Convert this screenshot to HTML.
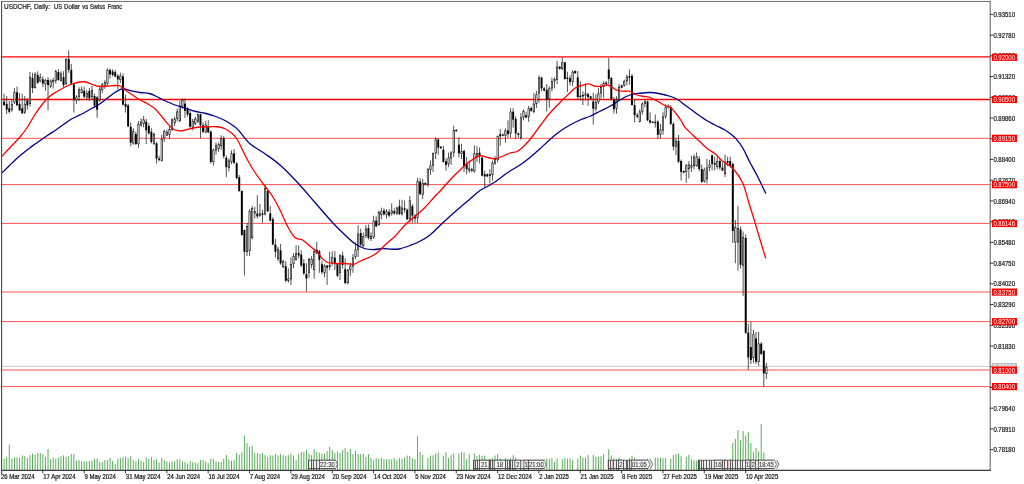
<!DOCTYPE html><html><head><meta charset="utf-8"><style>html,body{margin:0;padding:0;background:#fff;}svg{display:block;font-family:"Liberation Sans",sans-serif;}</style></head><body>
<svg width="1024" height="484" viewBox="0 0 1024 484">
<defs><filter id="bl" x="-5%" y="-5%" width="110%" height="110%"><feGaussianBlur stdDeviation="0.45"/></filter><filter id="bm" x="-5%" y="-20%" width="110%" height="140%"><feGaussianBlur stdDeviation="0.2"/></filter><filter id="bt" x="-5%" y="-20%" width="110%" height="140%"><feGaussianBlur stdDeviation="0.3"/></filter></defs>
<rect width="1024" height="484" fill="#fff"/>
<g stroke="#008000" stroke-width="0.66" filter="url(#bt)">
<line x1="4.10" y1="470" x2="4.10" y2="458.60"/>
<line x1="6.68" y1="470" x2="6.68" y2="456.80"/>
<line x1="9.27" y1="470" x2="9.27" y2="444.40"/>
<line x1="11.85" y1="470" x2="11.85" y2="458.80"/>
<line x1="14.44" y1="470" x2="14.44" y2="457.30"/>
<line x1="17.02" y1="470" x2="17.02" y2="457.30"/>
<line x1="19.60" y1="470" x2="19.60" y2="457.60"/>
<line x1="22.19" y1="470" x2="22.19" y2="455.40"/>
<line x1="24.77" y1="470" x2="24.77" y2="456.10"/>
<line x1="27.36" y1="470" x2="27.36" y2="458.10"/>
<line x1="29.94" y1="470" x2="29.94" y2="455.10"/>
<line x1="32.52" y1="470" x2="32.52" y2="453.60"/>
<line x1="35.11" y1="470" x2="35.11" y2="454.90"/>
<line x1="37.69" y1="470" x2="37.69" y2="452.80"/>
<line x1="40.28" y1="470" x2="40.28" y2="452.80"/>
<line x1="42.86" y1="470" x2="42.86" y2="454.10"/>
<line x1="45.44" y1="470" x2="45.44" y2="456.80"/>
<line x1="48.03" y1="470" x2="48.03" y2="449.00"/>
<line x1="50.61" y1="470" x2="50.61" y2="459.30"/>
<line x1="53.20" y1="470" x2="53.20" y2="457.60"/>
<line x1="55.78" y1="470" x2="55.78" y2="458.80"/>
<line x1="58.36" y1="470" x2="58.36" y2="457.40"/>
<line x1="60.95" y1="470" x2="60.95" y2="456.10"/>
<line x1="63.53" y1="470" x2="63.53" y2="455.40"/>
<line x1="66.12" y1="470" x2="66.12" y2="456.90"/>
<line x1="68.70" y1="470" x2="68.70" y2="455.90"/>
<line x1="71.28" y1="470" x2="71.28" y2="454.10"/>
<line x1="73.87" y1="470" x2="73.87" y2="454.10"/>
<line x1="76.45" y1="470" x2="76.45" y2="460.80"/>
<line x1="79.04" y1="470" x2="79.04" y2="460.10"/>
<line x1="81.62" y1="470" x2="81.62" y2="461.30"/>
<line x1="84.20" y1="470" x2="84.20" y2="461.30"/>
<line x1="86.79" y1="470" x2="86.79" y2="461.30"/>
<line x1="89.37" y1="470" x2="89.37" y2="460.80"/>
<line x1="91.96" y1="470" x2="91.96" y2="460.80"/>
<line x1="94.54" y1="470" x2="94.54" y2="458.80"/>
<line x1="97.12" y1="470" x2="97.12" y2="458.60"/>
<line x1="99.71" y1="470" x2="99.71" y2="462.10"/>
<line x1="102.29" y1="470" x2="102.29" y2="462.10"/>
<line x1="104.88" y1="470" x2="104.88" y2="460.10"/>
<line x1="107.46" y1="470" x2="107.46" y2="460.10"/>
<line x1="110.04" y1="470" x2="110.04" y2="458.10"/>
<line x1="112.63" y1="470" x2="112.63" y2="460.90"/>
<line x1="115.21" y1="470" x2="115.21" y2="464.00"/>
<line x1="117.80" y1="470" x2="117.80" y2="458.80"/>
<line x1="120.38" y1="470" x2="120.38" y2="458.10"/>
<line x1="122.96" y1="470" x2="122.96" y2="457.40"/>
<line x1="125.55" y1="470" x2="125.55" y2="456.80"/>
<line x1="128.13" y1="470" x2="128.13" y2="458.10"/>
<line x1="130.72" y1="470" x2="130.72" y2="456.10"/>
<line x1="133.30" y1="470" x2="133.30" y2="460.10"/>
<line x1="135.88" y1="470" x2="135.88" y2="461.40"/>
<line x1="138.47" y1="470" x2="138.47" y2="458.80"/>
<line x1="141.05" y1="470" x2="141.05" y2="460.80"/>
<line x1="143.64" y1="470" x2="143.64" y2="462.10"/>
<line x1="146.22" y1="470" x2="146.22" y2="457.60"/>
<line x1="148.80" y1="470" x2="148.80" y2="458.80"/>
<line x1="151.39" y1="470" x2="151.39" y2="456.80"/>
<line x1="153.97" y1="470" x2="153.97" y2="460.10"/>
<line x1="156.56" y1="470" x2="156.56" y2="459.30"/>
<line x1="159.14" y1="470" x2="159.14" y2="462.80"/>
<line x1="161.72" y1="470" x2="161.72" y2="458.10"/>
<line x1="164.31" y1="470" x2="164.31" y2="460.10"/>
<line x1="166.89" y1="470" x2="166.89" y2="461.30"/>
<line x1="169.48" y1="470" x2="169.48" y2="462.80"/>
<line x1="172.06" y1="470" x2="172.06" y2="461.30"/>
<line x1="174.64" y1="470" x2="174.64" y2="461.30"/>
<line x1="177.23" y1="470" x2="177.23" y2="459.30"/>
<line x1="179.81" y1="470" x2="179.81" y2="459.30"/>
<line x1="182.40" y1="470" x2="182.40" y2="461.30"/>
<line x1="184.98" y1="470" x2="184.98" y2="462.10"/>
<line x1="187.56" y1="470" x2="187.56" y2="463.30"/>
<line x1="190.15" y1="470" x2="190.15" y2="461.30"/>
<line x1="192.73" y1="470" x2="192.73" y2="462.10"/>
<line x1="195.32" y1="470" x2="195.32" y2="462.80"/>
<line x1="197.90" y1="470" x2="197.90" y2="463.30"/>
<line x1="200.48" y1="470" x2="200.48" y2="460.10"/>
<line x1="203.07" y1="470" x2="203.07" y2="460.10"/>
<line x1="205.65" y1="470" x2="205.65" y2="461.40"/>
<line x1="208.24" y1="470" x2="208.24" y2="463.10"/>
<line x1="210.82" y1="470" x2="210.82" y2="458.80"/>
<line x1="213.40" y1="470" x2="213.40" y2="458.80"/>
<line x1="215.99" y1="470" x2="215.99" y2="461.40"/>
<line x1="218.57" y1="470" x2="218.57" y2="462.10"/>
<line x1="221.16" y1="470" x2="221.16" y2="462.10"/>
<line x1="223.74" y1="470" x2="223.74" y2="458.80"/>
<line x1="226.32" y1="470" x2="226.32" y2="455.10"/>
<line x1="228.91" y1="470" x2="228.91" y2="459.40"/>
<line x1="231.49" y1="470" x2="231.49" y2="460.80"/>
<line x1="234.08" y1="470" x2="234.08" y2="460.10"/>
<line x1="236.66" y1="470" x2="236.66" y2="452.90"/>
<line x1="239.24" y1="470" x2="239.24" y2="454.90"/>
<line x1="241.83" y1="470" x2="241.83" y2="451.80"/>
<line x1="244.41" y1="470" x2="244.41" y2="435.60"/>
<line x1="247.00" y1="470" x2="247.00" y2="443.20"/>
<line x1="249.58" y1="470" x2="249.58" y2="446.90"/>
<line x1="252.16" y1="470" x2="252.16" y2="445.90"/>
<line x1="254.75" y1="470" x2="254.75" y2="452.90"/>
<line x1="257.33" y1="470" x2="257.33" y2="452.90"/>
<line x1="259.92" y1="470" x2="259.92" y2="454.10"/>
<line x1="262.50" y1="470" x2="262.50" y2="452.90"/>
<line x1="265.08" y1="470" x2="265.08" y2="455.10"/>
<line x1="267.67" y1="470" x2="267.67" y2="456.90"/>
<line x1="270.25" y1="470" x2="270.25" y2="455.10"/>
<line x1="272.84" y1="470" x2="272.84" y2="455.60"/>
<line x1="275.42" y1="470" x2="275.42" y2="454.10"/>
<line x1="278.00" y1="470" x2="278.00" y2="455.60"/>
<line x1="280.59" y1="470" x2="280.59" y2="454.10"/>
<line x1="283.17" y1="470" x2="283.17" y2="455.10"/>
<line x1="285.76" y1="470" x2="285.76" y2="456.10"/>
<line x1="288.34" y1="470" x2="288.34" y2="455.10"/>
<line x1="290.92" y1="470" x2="290.92" y2="453.60"/>
<line x1="293.51" y1="470" x2="293.51" y2="455.60"/>
<line x1="296.09" y1="470" x2="296.09" y2="460.10"/>
<line x1="298.68" y1="470" x2="298.68" y2="454.10"/>
<line x1="301.26" y1="470" x2="301.26" y2="452.10"/>
<line x1="303.84" y1="470" x2="303.84" y2="452.10"/>
<line x1="306.43" y1="470" x2="306.43" y2="450.00"/>
<line x1="309.01" y1="470" x2="309.01" y2="453.60"/>
<line x1="311.60" y1="470" x2="311.60" y2="455.10"/>
<line x1="314.18" y1="470" x2="314.18" y2="449.20"/>
<line x1="316.76" y1="470" x2="316.76" y2="451.90"/>
<line x1="319.35" y1="470" x2="319.35" y2="452.90"/>
<line x1="321.93" y1="470" x2="321.93" y2="453.60"/>
<line x1="324.52" y1="470" x2="324.52" y2="453.60"/>
<line x1="327.10" y1="470" x2="327.10" y2="451.00"/>
<line x1="329.68" y1="470" x2="329.68" y2="446.70"/>
<line x1="332.27" y1="470" x2="332.27" y2="450.00"/>
<line x1="334.85" y1="470" x2="334.85" y2="452.90"/>
<line x1="337.44" y1="470" x2="337.44" y2="451.60"/>
<line x1="340.02" y1="470" x2="340.02" y2="452.90"/>
<line x1="342.60" y1="470" x2="342.60" y2="450.00"/>
<line x1="345.19" y1="470" x2="345.19" y2="448.20"/>
<line x1="347.77" y1="470" x2="347.77" y2="451.60"/>
<line x1="350.36" y1="470" x2="350.36" y2="449.00"/>
<line x1="352.94" y1="470" x2="352.94" y2="454.10"/>
<line x1="355.52" y1="470" x2="355.52" y2="451.00"/>
<line x1="358.11" y1="470" x2="358.11" y2="454.10"/>
<line x1="360.69" y1="470" x2="360.69" y2="454.10"/>
<line x1="363.28" y1="470" x2="363.28" y2="453.60"/>
<line x1="365.86" y1="470" x2="365.86" y2="456.90"/>
<line x1="368.44" y1="470" x2="368.44" y2="454.10"/>
<line x1="371.03" y1="470" x2="371.03" y2="458.10"/>
<line x1="373.61" y1="470" x2="373.61" y2="460.10"/>
<line x1="376.20" y1="470" x2="376.20" y2="458.10"/>
<line x1="378.78" y1="470" x2="378.78" y2="458.80"/>
<line x1="381.36" y1="470" x2="381.36" y2="457.60"/>
<line x1="383.95" y1="470" x2="383.95" y2="459.30"/>
<line x1="386.53" y1="470" x2="386.53" y2="459.30"/>
<line x1="389.12" y1="470" x2="389.12" y2="459.30"/>
<line x1="391.70" y1="470" x2="391.70" y2="459.30"/>
<line x1="394.28" y1="470" x2="394.28" y2="458.10"/>
<line x1="396.87" y1="470" x2="396.87" y2="460.10"/>
<line x1="399.45" y1="470" x2="399.45" y2="458.10"/>
<line x1="402.04" y1="470" x2="402.04" y2="458.80"/>
<line x1="404.62" y1="470" x2="404.62" y2="457.40"/>
<line x1="407.20" y1="470" x2="407.20" y2="455.60"/>
<line x1="409.79" y1="470" x2="409.79" y2="456.10"/>
<line x1="412.37" y1="470" x2="412.37" y2="458.10"/>
<line x1="414.96" y1="470" x2="414.96" y2="459.30"/>
<line x1="417.54" y1="470" x2="417.54" y2="436.10"/>
<line x1="420.12" y1="470" x2="420.12" y2="451.80"/>
<line x1="422.71" y1="470" x2="422.71" y2="454.90"/>
<line x1="427.88" y1="470" x2="427.88" y2="458.10"/>
<line x1="430.46" y1="470" x2="430.46" y2="455.60"/>
<line x1="433.04" y1="470" x2="433.04" y2="455.10"/>
<line x1="435.63" y1="470" x2="435.63" y2="453.60"/>
<line x1="438.21" y1="470" x2="438.21" y2="452.30"/>
<line x1="443.38" y1="470" x2="443.38" y2="455.60"/>
<line x1="445.96" y1="470" x2="445.96" y2="452.30"/>
<line x1="448.55" y1="470" x2="448.55" y2="458.10"/>
<line x1="451.13" y1="470" x2="451.13" y2="454.90"/>
<line x1="453.72" y1="470" x2="453.72" y2="453.60"/>
<line x1="458.88" y1="470" x2="458.88" y2="453.60"/>
<line x1="461.47" y1="470" x2="461.47" y2="452.30"/>
<line x1="464.05" y1="470" x2="464.05" y2="452.30"/>
<line x1="466.64" y1="470" x2="466.64" y2="459.30"/>
<line x1="469.22" y1="470" x2="469.22" y2="454.10"/>
<line x1="474.39" y1="470" x2="474.39" y2="453.60"/>
<line x1="476.97" y1="470" x2="476.97" y2="456.10"/>
<line x1="479.56" y1="470" x2="479.56" y2="454.90"/>
<line x1="482.14" y1="470" x2="482.14" y2="456.10"/>
<line x1="484.72" y1="470" x2="484.72" y2="455.60"/>
<line x1="489.89" y1="470" x2="489.89" y2="458.60"/>
<line x1="492.48" y1="470" x2="492.48" y2="458.10"/>
<line x1="495.06" y1="470" x2="495.06" y2="455.60"/>
<line x1="497.64" y1="470" x2="497.64" y2="454.10"/>
<line x1="500.23" y1="470" x2="500.23" y2="458.60"/>
<line x1="505.40" y1="470" x2="505.40" y2="458.10"/>
<line x1="507.98" y1="470" x2="507.98" y2="458.60"/>
<line x1="510.56" y1="470" x2="510.56" y2="458.10"/>
<line x1="513.15" y1="470" x2="513.15" y2="455.10"/>
<line x1="515.73" y1="470" x2="515.73" y2="457.60"/>
<line x1="520.90" y1="470" x2="520.90" y2="461.00"/>
<line x1="523.48" y1="470" x2="523.48" y2="461.00"/>
<line x1="526.07" y1="470" x2="526.07" y2="461.00"/>
<line x1="528.65" y1="470" x2="528.65" y2="461.00"/>
<line x1="533.82" y1="470" x2="533.82" y2="462.00"/>
<line x1="536.40" y1="470" x2="536.40" y2="462.00"/>
<line x1="538.99" y1="470" x2="538.99" y2="462.00"/>
<line x1="541.57" y1="470" x2="541.57" y2="462.00"/>
<line x1="546.74" y1="470" x2="546.74" y2="458.80"/>
<line x1="549.32" y1="470" x2="549.32" y2="458.60"/>
<line x1="551.91" y1="470" x2="551.91" y2="458.10"/>
<line x1="554.49" y1="470" x2="554.49" y2="462.10"/>
<line x1="557.08" y1="470" x2="557.08" y2="458.60"/>
<line x1="562.24" y1="470" x2="562.24" y2="459.30"/>
<line x1="564.83" y1="470" x2="564.83" y2="458.10"/>
<line x1="567.41" y1="470" x2="567.41" y2="458.60"/>
<line x1="570.00" y1="470" x2="570.00" y2="458.60"/>
<line x1="572.58" y1="470" x2="572.58" y2="460.10"/>
<line x1="577.75" y1="470" x2="577.75" y2="458.60"/>
<line x1="580.33" y1="470" x2="580.33" y2="455.60"/>
<line x1="582.92" y1="470" x2="582.92" y2="457.60"/>
<line x1="585.50" y1="470" x2="585.50" y2="457.60"/>
<line x1="588.08" y1="470" x2="588.08" y2="454.90"/>
<line x1="593.25" y1="470" x2="593.25" y2="454.90"/>
<line x1="595.84" y1="470" x2="595.84" y2="456.90"/>
<line x1="598.42" y1="470" x2="598.42" y2="456.90"/>
<line x1="601.00" y1="470" x2="601.00" y2="456.10"/>
<line x1="603.59" y1="470" x2="603.59" y2="454.10"/>
<line x1="608.76" y1="470" x2="608.76" y2="449.20"/>
<line x1="611.34" y1="470" x2="611.34" y2="455.60"/>
<line x1="613.92" y1="470" x2="613.92" y2="458.10"/>
<line x1="616.51" y1="470" x2="616.51" y2="458.80"/>
<line x1="619.09" y1="470" x2="619.09" y2="457.40"/>
<line x1="624.26" y1="470" x2="624.26" y2="461.00"/>
<line x1="626.84" y1="470" x2="626.84" y2="461.00"/>
<line x1="629.43" y1="470" x2="629.43" y2="458.10"/>
<line x1="632.01" y1="470" x2="632.01" y2="455.60"/>
<line x1="634.60" y1="470" x2="634.60" y2="457.60"/>
<line x1="639.76" y1="470" x2="639.76" y2="461.00"/>
<line x1="642.35" y1="470" x2="642.35" y2="461.00"/>
<line x1="644.93" y1="470" x2="644.93" y2="461.00"/>
<line x1="647.52" y1="470" x2="647.52" y2="458.60"/>
<line x1="650.10" y1="470" x2="650.10" y2="458.60"/>
<line x1="655.27" y1="470" x2="655.27" y2="457.60"/>
<line x1="657.85" y1="470" x2="657.85" y2="457.60"/>
<line x1="660.44" y1="470" x2="660.44" y2="457.60"/>
<line x1="663.02" y1="470" x2="663.02" y2="458.10"/>
<line x1="665.60" y1="470" x2="665.60" y2="458.10"/>
<line x1="670.77" y1="470" x2="670.77" y2="458.80"/>
<line x1="673.36" y1="470" x2="673.36" y2="455.10"/>
<line x1="675.94" y1="470" x2="675.94" y2="454.10"/>
<line x1="678.52" y1="470" x2="678.52" y2="453.60"/>
<line x1="681.11" y1="470" x2="681.11" y2="456.10"/>
<line x1="686.28" y1="470" x2="686.28" y2="456.90"/>
<line x1="688.86" y1="470" x2="688.86" y2="454.90"/>
<line x1="691.44" y1="470" x2="691.44" y2="459.30"/>
<line x1="694.03" y1="470" x2="694.03" y2="460.10"/>
<line x1="696.61" y1="470" x2="696.61" y2="460.80"/>
<line x1="701.78" y1="470" x2="701.78" y2="461.00"/>
<line x1="704.36" y1="470" x2="704.36" y2="461.00"/>
<line x1="706.95" y1="470" x2="706.95" y2="461.00"/>
<line x1="709.53" y1="470" x2="709.53" y2="461.00"/>
<line x1="712.12" y1="470" x2="712.12" y2="461.00"/>
<line x1="717.28" y1="470" x2="717.28" y2="461.00"/>
<line x1="719.87" y1="470" x2="719.87" y2="461.00"/>
<line x1="722.45" y1="470" x2="722.45" y2="461.00"/>
<line x1="725.04" y1="470" x2="725.04" y2="458.80"/>
<line x1="727.62" y1="470" x2="727.62" y2="461.00"/>
<line x1="730.20" y1="470" x2="730.20" y2="458.80"/>
<line x1="732.79" y1="470" x2="732.79" y2="443.10"/>
<line x1="735.37" y1="470" x2="735.37" y2="439.00"/>
<line x1="737.96" y1="470" x2="737.96" y2="430.20"/>
<line x1="740.54" y1="470" x2="740.54" y2="440.20"/>
<line x1="743.12" y1="470" x2="743.12" y2="431.00"/>
<line x1="745.71" y1="470" x2="745.71" y2="435.70"/>
<line x1="748.29" y1="470" x2="748.29" y2="432.30"/>
<line x1="750.88" y1="470" x2="750.88" y2="443.10"/>
<line x1="753.46" y1="470" x2="753.46" y2="452.10"/>
<line x1="756.04" y1="470" x2="756.04" y2="447.90"/>
<line x1="758.63" y1="470" x2="758.63" y2="451.30"/>
<line x1="761.21" y1="470" x2="761.21" y2="423.80"/>
<line x1="763.80" y1="470" x2="763.80" y2="452.40"/>
<line x1="766.38" y1="470" x2="766.38" y2="468.70"/>
</g>
<line x1="2" y1="366.4" x2="990" y2="366.4" stroke="#b0b0b0" stroke-width="0.66"/>
<line x1="2" y1="56.95" x2="990" y2="56.95" stroke="#ff0000" stroke-width="1.3"/>
<line x1="2" y1="99.5" x2="990" y2="99.5" stroke="#ff0000" stroke-width="1.3"/>
<line x1="2" y1="138.3" x2="990" y2="138.3" stroke="#ff0000" stroke-width="0.68"/>
<line x1="2" y1="184.6" x2="990" y2="184.6" stroke="#ff0000" stroke-width="0.68"/>
<line x1="2" y1="223.4" x2="990" y2="223.4" stroke="#ff0000" stroke-width="0.68"/>
<line x1="2" y1="292" x2="990" y2="292" stroke="#ff0000" stroke-width="0.68"/>
<line x1="2" y1="321.6" x2="990" y2="321.6" stroke="#ff0000" stroke-width="0.68"/>
<line x1="2" y1="370" x2="990" y2="370" stroke="#ff0000" stroke-width="0.68"/>
<line x1="2" y1="386.6" x2="990" y2="386.6" stroke="#ff0000" stroke-width="0.68"/>
<g filter="url(#bl)">
<line x1="4.10" y1="93.73" x2="4.10" y2="105.30" stroke="#000" stroke-width="0.68"/>
<rect x="3.13" y="101.68" width="1.94" height="3.62" fill="#000"/>
<line x1="6.68" y1="95.90" x2="6.68" y2="113.98" stroke="#000" stroke-width="0.68"/>
<rect x="5.71" y="103.85" width="1.94" height="5.79" fill="#000"/>
<line x1="9.27" y1="100.96" x2="9.27" y2="113.25" stroke="#000" stroke-width="0.68"/>
<rect x="8.30" y="108.19" width="1.94" height="3.62" fill="#000"/>
<line x1="11.85" y1="99.51" x2="11.85" y2="111.81" stroke="#000" stroke-width="0.68"/>
<rect x="10.88" y="103.85" width="1.94" height="5.79" fill="#000"/>
<rect x="11.49" y="104.50" width="0.72" height="4.49" fill="#fff"/>
<line x1="14.44" y1="87.94" x2="14.44" y2="103.85" stroke="#000" stroke-width="0.68"/>
<rect x="13.47" y="92.28" width="1.94" height="10.12" fill="#000"/>
<rect x="14.08" y="92.93" width="0.72" height="8.82" fill="#fff"/>
<line x1="17.02" y1="86.50" x2="17.02" y2="106.02" stroke="#000" stroke-width="0.68"/>
<rect x="16.05" y="92.28" width="1.94" height="13.02" fill="#000"/>
<line x1="19.60" y1="93.01" x2="19.60" y2="111.09" stroke="#000" stroke-width="0.68"/>
<rect x="18.63" y="103.85" width="1.94" height="6.51" fill="#000"/>
<line x1="22.19" y1="93.73" x2="22.19" y2="113.98" stroke="#000" stroke-width="0.68"/>
<rect x="21.22" y="108.19" width="1.94" height="5.06" fill="#000"/>
<line x1="24.77" y1="95.90" x2="24.77" y2="113.98" stroke="#000" stroke-width="0.68"/>
<rect x="23.80" y="103.85" width="1.94" height="8.68" fill="#000"/>
<rect x="24.41" y="104.50" width="0.72" height="7.38" fill="#fff"/>
<line x1="27.36" y1="98.07" x2="27.36" y2="109.64" stroke="#000" stroke-width="0.68"/>
<rect x="26.39" y="100.24" width="1.94" height="5.06" fill="#000"/>
<line x1="29.94" y1="72.03" x2="29.94" y2="106.75" stroke="#000" stroke-width="0.68"/>
<rect x="28.97" y="77.10" width="1.94" height="26.76" fill="#000"/>
<rect x="29.58" y="77.75" width="0.72" height="25.46" fill="#fff"/>
<line x1="32.52" y1="72.76" x2="32.52" y2="93.01" stroke="#000" stroke-width="0.68"/>
<rect x="31.55" y="77.82" width="1.94" height="10.12" fill="#000"/>
<line x1="35.11" y1="72.03" x2="35.11" y2="88.67" stroke="#000" stroke-width="0.68"/>
<rect x="34.14" y="74.20" width="1.94" height="13.74" fill="#000"/>
<rect x="34.75" y="74.85" width="0.72" height="12.44" fill="#fff"/>
<line x1="37.69" y1="71.31" x2="37.69" y2="83.60" stroke="#000" stroke-width="0.68"/>
<rect x="36.72" y="74.93" width="1.94" height="7.95" fill="#000"/>
<line x1="40.28" y1="73.48" x2="40.28" y2="82.16" stroke="#000" stroke-width="0.68"/>
<rect x="39.31" y="77.10" width="1.94" height="4.34" fill="#000"/>
<rect x="39.92" y="77.75" width="0.72" height="3.04" fill="#fff"/>
<line x1="42.86" y1="76.37" x2="42.86" y2="87.22" stroke="#000" stroke-width="0.68"/>
<rect x="41.89" y="79.27" width="1.94" height="4.34" fill="#000"/>
<line x1="45.44" y1="78.54" x2="45.44" y2="90.84" stroke="#000" stroke-width="0.68"/>
<rect x="44.47" y="79.99" width="1.94" height="4.34" fill="#000"/>
<rect x="45.08" y="80.64" width="0.72" height="3.04" fill="#fff"/>
<line x1="48.03" y1="77.10" x2="48.03" y2="110.36" stroke="#000" stroke-width="0.68"/>
<rect x="47.06" y="79.99" width="1.94" height="5.06" fill="#000"/>
<line x1="50.61" y1="79.27" x2="50.61" y2="87.94" stroke="#000" stroke-width="0.68"/>
<rect x="49.64" y="80.71" width="1.94" height="5.79" fill="#000"/>
<rect x="50.25" y="81.36" width="0.72" height="4.49" fill="#fff"/>
<line x1="53.20" y1="77.82" x2="53.20" y2="88.67" stroke="#000" stroke-width="0.68"/>
<rect x="52.23" y="79.99" width="1.94" height="2.17" fill="#000"/>
<rect x="52.84" y="80.64" width="0.72" height="0.87" fill="#fff"/>
<line x1="55.78" y1="69.86" x2="55.78" y2="83.60" stroke="#000" stroke-width="0.68"/>
<rect x="54.81" y="71.31" width="1.94" height="9.40" fill="#000"/>
<rect x="55.42" y="71.96" width="0.72" height="8.10" fill="#fff"/>
<line x1="58.36" y1="69.14" x2="58.36" y2="80.71" stroke="#000" stroke-width="0.68"/>
<rect x="57.39" y="72.03" width="1.94" height="7.95" fill="#000"/>
<line x1="60.95" y1="71.31" x2="60.95" y2="81.44" stroke="#000" stroke-width="0.68"/>
<rect x="59.98" y="73.48" width="1.94" height="7.23" fill="#000"/>
<rect x="60.59" y="74.13" width="0.72" height="5.93" fill="#fff"/>
<line x1="63.53" y1="71.31" x2="63.53" y2="87.22" stroke="#000" stroke-width="0.68"/>
<rect x="62.56" y="77.10" width="1.94" height="7.95" fill="#000"/>
<line x1="66.12" y1="58.29" x2="66.12" y2="85.05" stroke="#000" stroke-width="0.68"/>
<rect x="65.15" y="59.02" width="1.94" height="24.59" fill="#000"/>
<rect x="65.76" y="59.67" width="0.72" height="23.29" fill="#fff"/>
<line x1="68.70" y1="50.34" x2="68.70" y2="72.76" stroke="#000" stroke-width="0.68"/>
<rect x="67.73" y="59.02" width="1.94" height="10.85" fill="#000"/>
<line x1="71.28" y1="64.08" x2="71.28" y2="85.05" stroke="#000" stroke-width="0.68"/>
<rect x="70.31" y="69.86" width="1.94" height="13.74" fill="#000"/>
<line x1="73.87" y1="83.60" x2="73.87" y2="112.53" stroke="#000" stroke-width="0.68"/>
<rect x="72.90" y="84.33" width="1.94" height="15.91" fill="#000"/>
<line x1="76.45" y1="95.18" x2="76.45" y2="103.85" stroke="#000" stroke-width="0.68"/>
<rect x="75.48" y="96.62" width="1.94" height="3.62" fill="#000"/>
<rect x="76.09" y="97.27" width="0.72" height="2.32" fill="#fff"/>
<line x1="79.04" y1="87.22" x2="79.04" y2="100.96" stroke="#000" stroke-width="0.68"/>
<rect x="78.07" y="89.39" width="1.94" height="7.23" fill="#000"/>
<rect x="78.68" y="90.04" width="0.72" height="5.93" fill="#fff"/>
<line x1="81.62" y1="86.50" x2="81.62" y2="93.73" stroke="#000" stroke-width="0.68"/>
<rect x="80.65" y="89.39" width="1.94" height="3.62" fill="#000"/>
<rect x="81.26" y="90.04" width="0.72" height="2.32" fill="#fff"/>
<line x1="84.20" y1="86.50" x2="84.20" y2="98.07" stroke="#000" stroke-width="0.68"/>
<rect x="83.23" y="90.84" width="1.94" height="5.79" fill="#000"/>
<line x1="86.79" y1="90.20" x2="86.79" y2="100.33" stroke="#000" stroke-width="0.68"/>
<rect x="85.82" y="93.10" width="1.94" height="4.34" fill="#000"/>
<rect x="86.43" y="93.75" width="0.72" height="3.04" fill="#fff"/>
<line x1="89.37" y1="88.03" x2="89.37" y2="101.05" stroke="#000" stroke-width="0.68"/>
<rect x="88.40" y="90.93" width="1.94" height="7.23" fill="#000"/>
<line x1="91.96" y1="85.86" x2="91.96" y2="99.60" stroke="#000" stroke-width="0.68"/>
<rect x="90.99" y="90.20" width="1.94" height="6.51" fill="#000"/>
<rect x="91.60" y="90.85" width="0.72" height="5.21" fill="#fff"/>
<line x1="94.54" y1="93.82" x2="94.54" y2="106.84" stroke="#000" stroke-width="0.68"/>
<rect x="93.57" y="95.99" width="1.94" height="9.40" fill="#000"/>
<line x1="97.12" y1="95.99" x2="97.12" y2="117.68" stroke="#000" stroke-width="0.68"/>
<rect x="96.15" y="97.44" width="1.94" height="12.29" fill="#000"/>
<line x1="99.71" y1="87.31" x2="99.71" y2="101.77" stroke="#000" stroke-width="0.68"/>
<rect x="98.74" y="88.76" width="1.94" height="11.57" fill="#000"/>
<rect x="99.35" y="89.41" width="0.72" height="10.27" fill="#fff"/>
<line x1="102.29" y1="82.97" x2="102.29" y2="93.10" stroke="#000" stroke-width="0.68"/>
<rect x="101.32" y="84.42" width="1.94" height="5.79" fill="#000"/>
<rect x="101.93" y="85.07" width="0.72" height="4.49" fill="#fff"/>
<line x1="104.88" y1="80.08" x2="104.88" y2="88.76" stroke="#000" stroke-width="0.68"/>
<rect x="103.91" y="82.25" width="1.94" height="4.34" fill="#000"/>
<rect x="104.52" y="82.90" width="0.72" height="3.04" fill="#fff"/>
<line x1="107.46" y1="68.51" x2="107.46" y2="85.14" stroke="#000" stroke-width="0.68"/>
<rect x="106.49" y="69.95" width="1.94" height="13.74" fill="#000"/>
<rect x="107.10" y="70.60" width="0.72" height="12.44" fill="#fff"/>
<line x1="110.04" y1="68.51" x2="110.04" y2="78.63" stroke="#000" stroke-width="0.68"/>
<rect x="109.07" y="69.95" width="1.94" height="4.34" fill="#000"/>
<line x1="112.63" y1="69.23" x2="112.63" y2="76.46" stroke="#000" stroke-width="0.68"/>
<rect x="111.66" y="71.40" width="1.94" height="3.62" fill="#000"/>
<line x1="115.21" y1="69.95" x2="115.21" y2="77.19" stroke="#000" stroke-width="0.68"/>
<rect x="114.24" y="72.12" width="1.94" height="4.34" fill="#000"/>
<line x1="117.80" y1="74.29" x2="117.80" y2="89.48" stroke="#000" stroke-width="0.68"/>
<rect x="116.83" y="75.74" width="1.94" height="3.62" fill="#000"/>
<line x1="120.38" y1="72.85" x2="120.38" y2="82.97" stroke="#000" stroke-width="0.68"/>
<rect x="119.41" y="75.74" width="1.94" height="4.34" fill="#000"/>
<rect x="120.02" y="76.39" width="0.72" height="3.04" fill="#fff"/>
<line x1="122.96" y1="73.57" x2="122.96" y2="105.39" stroke="#000" stroke-width="0.68"/>
<rect x="121.99" y="76.46" width="1.94" height="28.20" fill="#000"/>
<line x1="125.55" y1="94.54" x2="125.55" y2="112.62" stroke="#000" stroke-width="0.68"/>
<rect x="124.58" y="103.94" width="1.94" height="2.89" fill="#000"/>
<line x1="128.13" y1="103.94" x2="128.13" y2="127.09" stroke="#000" stroke-width="0.68"/>
<rect x="127.16" y="105.39" width="1.94" height="20.97" fill="#000"/>
<line x1="130.72" y1="122.42" x2="130.72" y2="146.28" stroke="#000" stroke-width="0.68"/>
<rect x="129.75" y="126.76" width="1.94" height="15.91" fill="#000"/>
<line x1="133.30" y1="128.20" x2="133.30" y2="144.84" stroke="#000" stroke-width="0.68"/>
<rect x="132.33" y="131.10" width="1.94" height="12.29" fill="#000"/>
<rect x="132.94" y="131.75" width="0.72" height="10.99" fill="#fff"/>
<line x1="135.88" y1="131.82" x2="135.88" y2="144.84" stroke="#000" stroke-width="0.68"/>
<rect x="134.91" y="133.99" width="1.94" height="10.12" fill="#000"/>
<line x1="138.47" y1="120.97" x2="138.47" y2="147.73" stroke="#000" stroke-width="0.68"/>
<rect x="137.50" y="123.86" width="1.94" height="20.25" fill="#000"/>
<rect x="138.11" y="124.51" width="0.72" height="18.95" fill="#fff"/>
<line x1="141.05" y1="118.08" x2="141.05" y2="126.76" stroke="#000" stroke-width="0.68"/>
<rect x="140.08" y="121.70" width="1.94" height="3.62" fill="#000"/>
<rect x="140.69" y="122.35" width="0.72" height="2.32" fill="#fff"/>
<line x1="143.64" y1="115.91" x2="143.64" y2="127.48" stroke="#000" stroke-width="0.68"/>
<rect x="142.67" y="119.53" width="1.94" height="4.34" fill="#000"/>
<rect x="143.28" y="120.18" width="0.72" height="3.04" fill="#fff"/>
<line x1="146.22" y1="118.80" x2="146.22" y2="144.11" stroke="#000" stroke-width="0.68"/>
<rect x="145.25" y="121.70" width="1.94" height="8.68" fill="#000"/>
<line x1="148.80" y1="123.14" x2="148.80" y2="134.71" stroke="#000" stroke-width="0.68"/>
<rect x="147.83" y="126.03" width="1.94" height="7.23" fill="#000"/>
<line x1="151.39" y1="128.20" x2="151.39" y2="143.39" stroke="#000" stroke-width="0.68"/>
<rect x="150.42" y="131.82" width="1.94" height="10.12" fill="#000"/>
<line x1="153.97" y1="132.54" x2="153.97" y2="144.84" stroke="#000" stroke-width="0.68"/>
<rect x="153.00" y="133.99" width="1.94" height="10.12" fill="#000"/>
<rect x="153.61" y="134.64" width="0.72" height="8.82" fill="#fff"/>
<line x1="156.56" y1="141.94" x2="156.56" y2="163.64" stroke="#000" stroke-width="0.68"/>
<rect x="155.59" y="143.39" width="1.94" height="15.19" fill="#000"/>
<line x1="159.14" y1="155.68" x2="159.14" y2="161.47" stroke="#000" stroke-width="0.68"/>
<rect x="158.17" y="158.58" width="1.94" height="1.45" fill="#000"/>
<line x1="161.72" y1="134.71" x2="161.72" y2="161.47" stroke="#000" stroke-width="0.68"/>
<rect x="160.75" y="139.05" width="1.94" height="21.70" fill="#000"/>
<rect x="161.36" y="139.70" width="0.72" height="20.40" fill="#fff"/>
<line x1="164.31" y1="129.65" x2="164.31" y2="141.94" stroke="#000" stroke-width="0.68"/>
<rect x="163.34" y="131.10" width="1.94" height="7.23" fill="#000"/>
<rect x="163.95" y="131.75" width="0.72" height="5.93" fill="#fff"/>
<line x1="166.89" y1="129.65" x2="166.89" y2="136.16" stroke="#000" stroke-width="0.68"/>
<rect x="165.92" y="131.82" width="1.94" height="3.62" fill="#000"/>
<rect x="166.53" y="132.47" width="0.72" height="2.32" fill="#fff"/>
<line x1="169.48" y1="126.03" x2="169.48" y2="139.05" stroke="#000" stroke-width="0.68"/>
<rect x="168.51" y="128.93" width="1.94" height="5.79" fill="#000"/>
<rect x="169.12" y="129.58" width="0.72" height="4.49" fill="#fff"/>
<line x1="172.06" y1="118.08" x2="172.06" y2="131.10" stroke="#000" stroke-width="0.68"/>
<rect x="171.09" y="119.53" width="1.94" height="10.12" fill="#000"/>
<rect x="171.70" y="120.18" width="0.72" height="8.82" fill="#fff"/>
<line x1="174.64" y1="116.63" x2="174.64" y2="126.03" stroke="#000" stroke-width="0.68"/>
<rect x="173.67" y="118.80" width="1.94" height="4.34" fill="#000"/>
<rect x="174.28" y="119.45" width="0.72" height="3.04" fill="#fff"/>
<line x1="177.23" y1="108.68" x2="177.23" y2="121.70" stroke="#000" stroke-width="0.68"/>
<rect x="176.26" y="111.57" width="1.94" height="7.23" fill="#000"/>
<rect x="176.87" y="112.22" width="0.72" height="5.93" fill="#fff"/>
<line x1="179.81" y1="100.72" x2="179.81" y2="122.42" stroke="#000" stroke-width="0.68"/>
<rect x="178.84" y="105.79" width="1.94" height="15.19" fill="#000"/>
<rect x="179.45" y="106.44" width="0.72" height="13.89" fill="#fff"/>
<line x1="182.40" y1="98.55" x2="182.40" y2="108.68" stroke="#000" stroke-width="0.68"/>
<rect x="181.43" y="100.00" width="1.94" height="6.51" fill="#000"/>
<rect x="182.04" y="100.65" width="0.72" height="5.21" fill="#fff"/>
<line x1="184.98" y1="98.55" x2="184.98" y2="118.08" stroke="#000" stroke-width="0.68"/>
<rect x="184.01" y="103.62" width="1.94" height="7.23" fill="#000"/>
<line x1="187.56" y1="107.23" x2="187.56" y2="116.63" stroke="#000" stroke-width="0.68"/>
<rect x="186.59" y="108.68" width="1.94" height="5.79" fill="#000"/>
<line x1="190.15" y1="110.85" x2="190.15" y2="127.48" stroke="#000" stroke-width="0.68"/>
<rect x="189.18" y="113.02" width="1.94" height="13.74" fill="#000"/>
<line x1="192.73" y1="118.80" x2="192.73" y2="130.37" stroke="#000" stroke-width="0.68"/>
<rect x="191.76" y="120.97" width="1.94" height="6.51" fill="#000"/>
<rect x="192.37" y="121.62" width="0.72" height="5.21" fill="#fff"/>
<line x1="195.32" y1="116.63" x2="195.32" y2="125.31" stroke="#000" stroke-width="0.68"/>
<rect x="194.35" y="118.80" width="1.94" height="5.06" fill="#000"/>
<rect x="194.96" y="119.45" width="0.72" height="3.76" fill="#fff"/>
<line x1="197.90" y1="113.62" x2="197.90" y2="123.02" stroke="#000" stroke-width="0.68"/>
<rect x="196.93" y="114.34" width="1.94" height="7.23" fill="#000"/>
<rect x="197.54" y="114.99" width="0.72" height="5.93" fill="#fff"/>
<line x1="200.48" y1="113.62" x2="200.48" y2="138.20" stroke="#000" stroke-width="0.68"/>
<rect x="199.51" y="114.34" width="1.94" height="10.85" fill="#000"/>
<line x1="203.07" y1="122.29" x2="203.07" y2="133.14" stroke="#000" stroke-width="0.68"/>
<rect x="202.10" y="125.19" width="1.94" height="6.51" fill="#000"/>
<line x1="205.65" y1="120.85" x2="205.65" y2="133.14" stroke="#000" stroke-width="0.68"/>
<rect x="204.68" y="124.46" width="1.94" height="7.95" fill="#000"/>
<rect x="205.29" y="125.11" width="0.72" height="6.65" fill="#fff"/>
<line x1="208.24" y1="120.12" x2="208.24" y2="133.14" stroke="#000" stroke-width="0.68"/>
<rect x="207.27" y="126.63" width="1.94" height="5.79" fill="#000"/>
<line x1="210.82" y1="130.25" x2="210.82" y2="163.51" stroke="#000" stroke-width="0.68"/>
<rect x="209.85" y="131.70" width="1.94" height="30.37" fill="#000"/>
<line x1="213.40" y1="148.33" x2="213.40" y2="165.68" stroke="#000" stroke-width="0.68"/>
<rect x="212.43" y="149.77" width="1.94" height="12.29" fill="#000"/>
<rect x="213.04" y="150.42" width="0.72" height="10.99" fill="#fff"/>
<line x1="215.99" y1="142.54" x2="215.99" y2="154.84" stroke="#000" stroke-width="0.68"/>
<rect x="215.02" y="145.44" width="1.94" height="5.06" fill="#000"/>
<rect x="215.63" y="146.09" width="0.72" height="3.76" fill="#fff"/>
<line x1="218.57" y1="142.54" x2="218.57" y2="151.94" stroke="#000" stroke-width="0.68"/>
<rect x="217.60" y="143.99" width="1.94" height="5.06" fill="#000"/>
<rect x="218.21" y="144.64" width="0.72" height="3.76" fill="#fff"/>
<line x1="221.16" y1="135.31" x2="221.16" y2="149.77" stroke="#000" stroke-width="0.68"/>
<rect x="220.19" y="138.20" width="1.94" height="7.95" fill="#000"/>
<rect x="220.80" y="138.85" width="0.72" height="6.65" fill="#fff"/>
<line x1="223.74" y1="136.03" x2="223.74" y2="158.45" stroke="#000" stroke-width="0.68"/>
<rect x="222.77" y="138.20" width="1.94" height="18.08" fill="#000"/>
<line x1="226.32" y1="155.56" x2="226.32" y2="177.25" stroke="#000" stroke-width="0.68"/>
<rect x="225.35" y="157.73" width="1.94" height="9.40" fill="#000"/>
<line x1="228.91" y1="158.45" x2="228.91" y2="171.47" stroke="#000" stroke-width="0.68"/>
<rect x="227.94" y="160.62" width="1.94" height="7.23" fill="#000"/>
<rect x="228.55" y="161.27" width="0.72" height="5.93" fill="#fff"/>
<line x1="231.49" y1="150.50" x2="231.49" y2="164.24" stroke="#000" stroke-width="0.68"/>
<rect x="230.52" y="153.39" width="1.94" height="8.68" fill="#000"/>
<rect x="231.13" y="154.04" width="0.72" height="7.38" fill="#fff"/>
<line x1="234.08" y1="149.05" x2="234.08" y2="164.24" stroke="#000" stroke-width="0.68"/>
<rect x="233.11" y="153.39" width="1.94" height="9.40" fill="#000"/>
<line x1="236.66" y1="162.07" x2="236.66" y2="179.42" stroke="#000" stroke-width="0.68"/>
<rect x="235.69" y="163.51" width="1.94" height="14.46" fill="#000"/>
<line x1="239.24" y1="175.12" x2="239.24" y2="191.76" stroke="#000" stroke-width="0.68"/>
<rect x="238.27" y="177.29" width="1.94" height="13.74" fill="#000"/>
<line x1="241.83" y1="190.30" x2="241.83" y2="235.50" stroke="#000" stroke-width="0.68"/>
<rect x="240.86" y="191.00" width="1.94" height="44.10" fill="#000"/>
<line x1="244.41" y1="229.50" x2="244.41" y2="275.60" stroke="#000" stroke-width="0.68"/>
<rect x="243.44" y="230.00" width="1.94" height="21.80" fill="#000"/>
<line x1="247.00" y1="223.00" x2="247.00" y2="256.00" stroke="#000" stroke-width="0.68"/>
<rect x="246.03" y="226.00" width="1.94" height="26.00" fill="#000"/>
<rect x="246.64" y="226.65" width="0.72" height="24.70" fill="#fff"/>
<line x1="249.58" y1="209.00" x2="249.58" y2="256.00" stroke="#000" stroke-width="0.68"/>
<rect x="248.61" y="211.00" width="1.94" height="40.00" fill="#000"/>
<rect x="249.22" y="211.65" width="0.72" height="38.70" fill="#fff"/>
<line x1="252.16" y1="206.00" x2="252.16" y2="239.50" stroke="#000" stroke-width="0.68"/>
<rect x="251.19" y="208.00" width="1.94" height="30.00" fill="#000"/>
<rect x="251.80" y="208.65" width="0.72" height="28.70" fill="#fff"/>
<line x1="254.75" y1="206.94" x2="254.75" y2="218.51" stroke="#000" stroke-width="0.68"/>
<rect x="253.78" y="211.28" width="1.94" height="2.17" fill="#000"/>
<rect x="254.39" y="211.93" width="0.72" height="0.87" fill="#fff"/>
<line x1="257.33" y1="195.37" x2="257.33" y2="218.51" stroke="#000" stroke-width="0.68"/>
<rect x="256.36" y="213.45" width="1.94" height="2.89" fill="#000"/>
<line x1="259.92" y1="204.05" x2="259.92" y2="217.07" stroke="#000" stroke-width="0.68"/>
<rect x="258.95" y="213.45" width="1.94" height="2.17" fill="#000"/>
<rect x="259.56" y="214.10" width="0.72" height="0.87" fill="#fff"/>
<line x1="262.50" y1="209.84" x2="262.50" y2="222.85" stroke="#000" stroke-width="0.68"/>
<rect x="261.53" y="213.45" width="1.94" height="1.45" fill="#000"/>
<line x1="265.08" y1="185.25" x2="265.08" y2="215.62" stroke="#000" stroke-width="0.68"/>
<rect x="264.11" y="188.14" width="1.94" height="26.03" fill="#000"/>
<rect x="264.72" y="188.79" width="0.72" height="24.73" fill="#fff"/>
<line x1="267.67" y1="189.59" x2="267.67" y2="212.01" stroke="#000" stroke-width="0.68"/>
<rect x="266.70" y="191.03" width="1.94" height="20.25" fill="#000"/>
<line x1="270.25" y1="206.22" x2="270.25" y2="221.41" stroke="#000" stroke-width="0.68"/>
<rect x="269.28" y="213.45" width="1.94" height="7.23" fill="#000"/>
<line x1="272.84" y1="217.00" x2="272.84" y2="245.00" stroke="#000" stroke-width="0.68"/>
<rect x="271.87" y="219.20" width="1.94" height="25.30" fill="#000"/>
<line x1="275.42" y1="238.74" x2="275.42" y2="257.54" stroke="#000" stroke-width="0.68"/>
<rect x="274.45" y="244.53" width="1.94" height="7.23" fill="#000"/>
<line x1="278.00" y1="246.70" x2="278.00" y2="261.16" stroke="#000" stroke-width="0.68"/>
<rect x="277.03" y="248.86" width="1.94" height="10.12" fill="#000"/>
<rect x="277.64" y="249.51" width="0.72" height="8.82" fill="#fff"/>
<line x1="280.59" y1="243.80" x2="280.59" y2="264.77" stroke="#000" stroke-width="0.68"/>
<rect x="279.62" y="250.31" width="1.94" height="13.02" fill="#000"/>
<line x1="283.17" y1="259.71" x2="283.17" y2="268.39" stroke="#000" stroke-width="0.68"/>
<rect x="282.20" y="261.16" width="1.94" height="5.79" fill="#000"/>
<rect x="282.81" y="261.81" width="0.72" height="4.49" fill="#fff"/>
<line x1="285.76" y1="261.16" x2="285.76" y2="282.13" stroke="#000" stroke-width="0.68"/>
<rect x="284.79" y="266.22" width="1.94" height="14.46" fill="#000"/>
<line x1="288.34" y1="268.39" x2="288.34" y2="282.85" stroke="#000" stroke-width="0.68"/>
<rect x="287.37" y="278.51" width="1.94" height="2.17" fill="#000"/>
<rect x="287.98" y="279.16" width="0.72" height="0.87" fill="#fff"/>
<line x1="290.92" y1="257.54" x2="290.92" y2="285.02" stroke="#000" stroke-width="0.68"/>
<rect x="289.95" y="264.05" width="1.94" height="15.19" fill="#000"/>
<rect x="290.56" y="264.70" width="0.72" height="13.89" fill="#fff"/>
<line x1="293.51" y1="253.20" x2="293.51" y2="268.39" stroke="#000" stroke-width="0.68"/>
<rect x="292.54" y="256.10" width="1.94" height="7.95" fill="#000"/>
<rect x="293.15" y="256.75" width="0.72" height="6.65" fill="#fff"/>
<line x1="296.09" y1="245.25" x2="296.09" y2="260.44" stroke="#000" stroke-width="0.68"/>
<rect x="295.12" y="253.20" width="1.94" height="6.51" fill="#000"/>
<rect x="295.73" y="253.85" width="0.72" height="5.21" fill="#fff"/>
<line x1="298.68" y1="245.25" x2="298.68" y2="258.27" stroke="#000" stroke-width="0.68"/>
<rect x="297.71" y="253.20" width="1.94" height="2.17" fill="#000"/>
<line x1="301.26" y1="250.31" x2="301.26" y2="266.94" stroke="#000" stroke-width="0.68"/>
<rect x="300.29" y="254.65" width="1.94" height="10.85" fill="#000"/>
<line x1="303.84" y1="258.99" x2="303.84" y2="274.90" stroke="#000" stroke-width="0.68"/>
<rect x="302.87" y="263.33" width="1.94" height="10.12" fill="#000"/>
<line x1="306.43" y1="263.33" x2="306.43" y2="291.53" stroke="#000" stroke-width="0.68"/>
<rect x="305.46" y="274.18" width="1.94" height="4.34" fill="#000"/>
<line x1="309.01" y1="257.54" x2="309.01" y2="277.79" stroke="#000" stroke-width="0.68"/>
<rect x="308.04" y="258.99" width="1.94" height="13.74" fill="#000"/>
<rect x="308.65" y="259.64" width="0.72" height="12.44" fill="#fff"/>
<line x1="311.60" y1="256.10" x2="311.60" y2="268.39" stroke="#000" stroke-width="0.68"/>
<rect x="310.63" y="258.99" width="1.94" height="5.79" fill="#000"/>
<rect x="311.24" y="259.64" width="0.72" height="4.49" fill="#fff"/>
<line x1="314.18" y1="248.27" x2="314.18" y2="278.64" stroke="#000" stroke-width="0.68"/>
<rect x="313.21" y="251.16" width="1.94" height="18.80" fill="#000"/>
<rect x="313.82" y="251.81" width="0.72" height="17.50" fill="#fff"/>
<line x1="316.76" y1="241.76" x2="316.76" y2="254.05" stroke="#000" stroke-width="0.68"/>
<rect x="315.79" y="249.71" width="1.94" height="3.62" fill="#000"/>
<line x1="319.35" y1="249.71" x2="319.35" y2="272.85" stroke="#000" stroke-width="0.68"/>
<rect x="318.38" y="251.16" width="1.94" height="8.68" fill="#000"/>
<line x1="321.93" y1="260.56" x2="321.93" y2="274.30" stroke="#000" stroke-width="0.68"/>
<rect x="320.96" y="264.18" width="1.94" height="7.95" fill="#000"/>
<line x1="324.52" y1="264.18" x2="324.52" y2="277.19" stroke="#000" stroke-width="0.68"/>
<rect x="323.55" y="265.62" width="1.94" height="7.23" fill="#000"/>
<rect x="324.16" y="266.27" width="0.72" height="5.93" fill="#fff"/>
<line x1="327.10" y1="264.90" x2="327.10" y2="285.00" stroke="#000" stroke-width="0.68"/>
<rect x="326.13" y="265.62" width="1.94" height="2.17" fill="#000"/>
<line x1="329.68" y1="251.88" x2="329.68" y2="269.96" stroke="#000" stroke-width="0.68"/>
<rect x="328.71" y="264.90" width="1.94" height="2.17" fill="#000"/>
<rect x="329.32" y="265.55" width="0.72" height="0.87" fill="#fff"/>
<line x1="332.27" y1="251.16" x2="332.27" y2="265.62" stroke="#000" stroke-width="0.68"/>
<rect x="331.30" y="256.94" width="1.94" height="6.51" fill="#000"/>
<rect x="331.91" y="257.59" width="0.72" height="5.21" fill="#fff"/>
<line x1="334.85" y1="251.16" x2="334.85" y2="269.96" stroke="#000" stroke-width="0.68"/>
<rect x="333.88" y="257.67" width="1.94" height="5.06" fill="#000"/>
<line x1="337.44" y1="262.73" x2="337.44" y2="277.19" stroke="#000" stroke-width="0.68"/>
<rect x="336.47" y="264.18" width="1.94" height="11.57" fill="#000"/>
<line x1="340.02" y1="254.05" x2="340.02" y2="280.09" stroke="#000" stroke-width="0.68"/>
<rect x="339.05" y="255.50" width="1.94" height="17.36" fill="#000"/>
<rect x="339.66" y="256.15" width="0.72" height="16.06" fill="#fff"/>
<line x1="342.60" y1="251.88" x2="342.60" y2="268.51" stroke="#000" stroke-width="0.68"/>
<rect x="341.63" y="255.50" width="1.94" height="9.40" fill="#000"/>
<line x1="345.19" y1="258.39" x2="345.19" y2="284.42" stroke="#000" stroke-width="0.68"/>
<rect x="344.22" y="269.24" width="1.94" height="13.74" fill="#000"/>
<line x1="347.77" y1="268.51" x2="347.77" y2="284.42" stroke="#000" stroke-width="0.68"/>
<rect x="346.80" y="269.96" width="1.94" height="13.02" fill="#000"/>
<rect x="347.41" y="270.61" width="0.72" height="11.72" fill="#fff"/>
<line x1="350.36" y1="262.73" x2="350.36" y2="275.75" stroke="#000" stroke-width="0.68"/>
<rect x="349.39" y="265.62" width="1.94" height="4.34" fill="#000"/>
<rect x="350.00" y="266.27" width="0.72" height="3.04" fill="#fff"/>
<line x1="352.94" y1="254.05" x2="352.94" y2="272.85" stroke="#000" stroke-width="0.68"/>
<rect x="351.97" y="257.67" width="1.94" height="8.68" fill="#000"/>
<rect x="352.58" y="258.32" width="0.72" height="7.38" fill="#fff"/>
<line x1="355.52" y1="242.48" x2="355.52" y2="259.11" stroke="#000" stroke-width="0.68"/>
<rect x="354.55" y="249.71" width="1.94" height="7.23" fill="#000"/>
<rect x="355.16" y="250.36" width="0.72" height="5.93" fill="#fff"/>
<line x1="358.11" y1="225.12" x2="358.11" y2="256.94" stroke="#000" stroke-width="0.68"/>
<rect x="357.14" y="233.80" width="1.94" height="15.91" fill="#000"/>
<rect x="357.75" y="234.45" width="0.72" height="14.61" fill="#fff"/>
<line x1="360.69" y1="228.74" x2="360.69" y2="246.10" stroke="#000" stroke-width="0.68"/>
<rect x="359.72" y="233.08" width="1.94" height="11.57" fill="#000"/>
<line x1="363.28" y1="232.36" x2="363.28" y2="247.54" stroke="#000" stroke-width="0.68"/>
<rect x="362.31" y="235.97" width="1.94" height="10.12" fill="#000"/>
<rect x="362.92" y="236.62" width="0.72" height="8.82" fill="#fff"/>
<line x1="365.86" y1="225.12" x2="365.86" y2="238.14" stroke="#000" stroke-width="0.68"/>
<rect x="364.89" y="228.74" width="1.94" height="7.23" fill="#000"/>
<rect x="365.50" y="229.39" width="0.72" height="5.93" fill="#fff"/>
<line x1="368.44" y1="224.40" x2="368.44" y2="239.59" stroke="#000" stroke-width="0.68"/>
<rect x="367.47" y="228.02" width="1.94" height="10.12" fill="#000"/>
<line x1="371.03" y1="232.36" x2="371.03" y2="241.03" stroke="#000" stroke-width="0.68"/>
<rect x="370.06" y="235.97" width="1.94" height="2.89" fill="#000"/>
<rect x="370.67" y="236.62" width="0.72" height="1.59" fill="#fff"/>
<line x1="373.61" y1="215.72" x2="373.61" y2="238.86" stroke="#000" stroke-width="0.68"/>
<rect x="372.64" y="220.79" width="1.94" height="16.63" fill="#000"/>
<rect x="373.25" y="221.44" width="0.72" height="15.33" fill="#fff"/>
<line x1="376.20" y1="216.35" x2="376.20" y2="227.19" stroke="#000" stroke-width="0.68"/>
<rect x="375.23" y="220.68" width="1.94" height="5.79" fill="#000"/>
<line x1="378.78" y1="210.56" x2="378.78" y2="225.75" stroke="#000" stroke-width="0.68"/>
<rect x="377.81" y="212.01" width="1.94" height="13.02" fill="#000"/>
<rect x="378.42" y="212.66" width="0.72" height="11.72" fill="#fff"/>
<line x1="381.36" y1="207.67" x2="381.36" y2="219.24" stroke="#000" stroke-width="0.68"/>
<rect x="380.39" y="211.28" width="1.94" height="3.62" fill="#000"/>
<rect x="381.00" y="211.93" width="0.72" height="2.32" fill="#fff"/>
<line x1="383.95" y1="208.39" x2="383.95" y2="215.62" stroke="#000" stroke-width="0.68"/>
<rect x="382.98" y="210.56" width="1.94" height="3.62" fill="#000"/>
<line x1="386.53" y1="209.11" x2="386.53" y2="218.51" stroke="#000" stroke-width="0.68"/>
<rect x="385.56" y="211.28" width="1.94" height="3.62" fill="#000"/>
<rect x="386.17" y="211.93" width="0.72" height="2.32" fill="#fff"/>
<line x1="389.12" y1="209.11" x2="389.12" y2="217.07" stroke="#000" stroke-width="0.68"/>
<rect x="388.15" y="212.01" width="1.94" height="3.62" fill="#000"/>
<line x1="391.70" y1="203.33" x2="391.70" y2="215.62" stroke="#000" stroke-width="0.68"/>
<rect x="390.73" y="210.56" width="1.94" height="2.89" fill="#000"/>
<rect x="391.34" y="211.21" width="0.72" height="1.59" fill="#fff"/>
<line x1="394.28" y1="208.39" x2="394.28" y2="214.90" stroke="#000" stroke-width="0.68"/>
<rect x="393.31" y="211.28" width="1.94" height="2.17" fill="#000"/>
<line x1="396.87" y1="206.94" x2="396.87" y2="214.90" stroke="#000" stroke-width="0.68"/>
<rect x="395.90" y="207.67" width="1.94" height="5.79" fill="#000"/>
<rect x="396.51" y="208.32" width="0.72" height="4.49" fill="#fff"/>
<line x1="399.45" y1="199.71" x2="399.45" y2="214.90" stroke="#000" stroke-width="0.68"/>
<rect x="398.48" y="206.22" width="1.94" height="7.95" fill="#000"/>
<line x1="402.04" y1="199.71" x2="402.04" y2="215.62" stroke="#000" stroke-width="0.68"/>
<rect x="401.07" y="207.67" width="1.94" height="6.51" fill="#000"/>
<rect x="401.68" y="208.32" width="0.72" height="5.21" fill="#fff"/>
<line x1="404.62" y1="200.44" x2="404.62" y2="212.73" stroke="#000" stroke-width="0.68"/>
<rect x="403.65" y="208.39" width="1.94" height="1.45" fill="#000"/>
<line x1="407.20" y1="208.39" x2="407.20" y2="219.96" stroke="#000" stroke-width="0.68"/>
<rect x="406.23" y="209.84" width="1.94" height="9.40" fill="#000"/>
<line x1="409.79" y1="196.10" x2="409.79" y2="222.85" stroke="#000" stroke-width="0.68"/>
<rect x="408.82" y="200.44" width="1.94" height="18.80" fill="#000"/>
<rect x="409.43" y="201.09" width="0.72" height="17.50" fill="#fff"/>
<line x1="412.37" y1="204.05" x2="412.37" y2="222.85" stroke="#000" stroke-width="0.68"/>
<rect x="411.40" y="206.22" width="1.94" height="9.40" fill="#000"/>
<line x1="414.96" y1="214.18" x2="414.96" y2="222.85" stroke="#000" stroke-width="0.68"/>
<rect x="413.99" y="215.62" width="1.94" height="2.89" fill="#000"/>
<line x1="417.54" y1="178.02" x2="417.54" y2="222.85" stroke="#000" stroke-width="0.68"/>
<rect x="416.57" y="180.91" width="1.94" height="36.88" fill="#000"/>
<rect x="417.18" y="181.56" width="0.72" height="35.58" fill="#fff"/>
<line x1="420.12" y1="178.02" x2="420.12" y2="195.37" stroke="#000" stroke-width="0.68"/>
<rect x="419.15" y="181.63" width="1.94" height="12.29" fill="#000"/>
<line x1="422.71" y1="178.74" x2="422.71" y2="198.99" stroke="#000" stroke-width="0.68"/>
<rect x="421.74" y="183.08" width="1.94" height="11.57" fill="#000"/>
<rect x="422.35" y="183.73" width="0.72" height="10.27" fill="#fff"/>
<line x1="425.29" y1="182.36" x2="425.29" y2="185.25" stroke="#000" stroke-width="0.68"/>
<rect x="424.32" y="183.08" width="1.94" height="1.45" fill="#000"/>
<line x1="427.88" y1="167.89" x2="427.88" y2="186.70" stroke="#000" stroke-width="0.68"/>
<rect x="426.91" y="169.34" width="1.94" height="15.19" fill="#000"/>
<rect x="427.52" y="169.99" width="0.72" height="13.89" fill="#fff"/>
<line x1="430.46" y1="160.50" x2="430.46" y2="174.96" stroke="#000" stroke-width="0.68"/>
<rect x="429.49" y="165.56" width="1.94" height="4.34" fill="#000"/>
<rect x="430.10" y="166.21" width="0.72" height="3.04" fill="#fff"/>
<line x1="433.04" y1="152.54" x2="433.04" y2="172.07" stroke="#000" stroke-width="0.68"/>
<rect x="432.07" y="153.27" width="1.94" height="12.29" fill="#000"/>
<rect x="432.68" y="153.92" width="0.72" height="10.99" fill="#fff"/>
<line x1="435.63" y1="137.36" x2="435.63" y2="159.05" stroke="#000" stroke-width="0.68"/>
<rect x="434.66" y="139.53" width="1.94" height="13.74" fill="#000"/>
<rect x="435.27" y="140.18" width="0.72" height="12.44" fill="#fff"/>
<line x1="438.21" y1="138.08" x2="438.21" y2="154.71" stroke="#000" stroke-width="0.68"/>
<rect x="437.24" y="139.53" width="1.94" height="7.95" fill="#000"/>
<line x1="440.80" y1="146.03" x2="440.80" y2="148.93" stroke="#000" stroke-width="0.68"/>
<rect x="439.83" y="146.76" width="1.94" height="1.45" fill="#000"/>
<line x1="443.38" y1="146.03" x2="443.38" y2="162.67" stroke="#000" stroke-width="0.68"/>
<rect x="442.41" y="149.65" width="1.94" height="12.29" fill="#000"/>
<line x1="445.96" y1="158.33" x2="445.96" y2="170.62" stroke="#000" stroke-width="0.68"/>
<rect x="444.99" y="161.22" width="1.94" height="3.62" fill="#000"/>
<line x1="448.55" y1="152.54" x2="448.55" y2="167.01" stroke="#000" stroke-width="0.68"/>
<rect x="447.58" y="157.60" width="1.94" height="6.51" fill="#000"/>
<rect x="448.19" y="158.25" width="0.72" height="5.21" fill="#fff"/>
<line x1="451.13" y1="151.10" x2="451.13" y2="164.84" stroke="#000" stroke-width="0.68"/>
<rect x="450.16" y="152.54" width="1.94" height="5.79" fill="#000"/>
<rect x="450.77" y="153.19" width="0.72" height="4.49" fill="#fff"/>
<line x1="453.72" y1="125.79" x2="453.72" y2="156.88" stroke="#000" stroke-width="0.68"/>
<rect x="452.75" y="130.12" width="1.94" height="22.42" fill="#000"/>
<rect x="453.36" y="130.77" width="0.72" height="21.12" fill="#fff"/>
<line x1="456.30" y1="129.40" x2="456.30" y2="131.57" stroke="#000" stroke-width="0.68"/>
<rect x="455.33" y="129.84" width="1.94" height="1.45" fill="#000"/>
<line x1="458.88" y1="137.36" x2="458.88" y2="157.60" stroke="#000" stroke-width="0.68"/>
<rect x="457.91" y="144.59" width="1.94" height="8.68" fill="#000"/>
<line x1="461.47" y1="143.86" x2="461.47" y2="159.05" stroke="#000" stroke-width="0.68"/>
<rect x="460.50" y="151.10" width="1.94" height="2.89" fill="#000"/>
<rect x="461.11" y="151.75" width="0.72" height="1.59" fill="#fff"/>
<line x1="464.05" y1="149.65" x2="464.05" y2="172.07" stroke="#000" stroke-width="0.68"/>
<rect x="463.08" y="151.10" width="1.94" height="15.19" fill="#000"/>
<line x1="466.64" y1="156.88" x2="466.64" y2="174.24" stroke="#000" stroke-width="0.68"/>
<rect x="465.67" y="163.39" width="1.94" height="5.79" fill="#000"/>
<line x1="469.22" y1="160.50" x2="469.22" y2="172.79" stroke="#000" stroke-width="0.68"/>
<rect x="468.25" y="168.45" width="1.94" height="2.17" fill="#000"/>
<rect x="468.86" y="169.10" width="0.72" height="0.87" fill="#fff"/>
<line x1="471.80" y1="167.73" x2="471.80" y2="172.07" stroke="#000" stroke-width="0.68"/>
<rect x="470.83" y="169.18" width="1.94" height="1.45" fill="#000"/>
<line x1="474.39" y1="145.31" x2="474.39" y2="172.79" stroke="#000" stroke-width="0.68"/>
<rect x="473.42" y="153.27" width="1.94" height="18.08" fill="#000"/>
<rect x="474.03" y="153.92" width="0.72" height="16.78" fill="#fff"/>
<line x1="476.97" y1="146.03" x2="476.97" y2="161.94" stroke="#000" stroke-width="0.68"/>
<rect x="476.00" y="153.27" width="1.94" height="3.62" fill="#000"/>
<rect x="476.61" y="153.92" width="0.72" height="2.32" fill="#fff"/>
<line x1="479.56" y1="147.48" x2="479.56" y2="163.39" stroke="#000" stroke-width="0.68"/>
<rect x="478.59" y="152.54" width="1.94" height="3.62" fill="#000"/>
<line x1="482.14" y1="156.16" x2="482.14" y2="176.41" stroke="#000" stroke-width="0.68"/>
<rect x="481.17" y="157.60" width="1.94" height="18.08" fill="#000"/>
<line x1="484.72" y1="170.62" x2="484.72" y2="187.98" stroke="#000" stroke-width="0.68"/>
<rect x="483.75" y="174.24" width="1.94" height="2.17" fill="#000"/>
<line x1="487.31" y1="173.51" x2="487.31" y2="177.13" stroke="#000" stroke-width="0.68"/>
<rect x="486.34" y="174.24" width="1.94" height="2.17" fill="#000"/>
<line x1="489.89" y1="169.18" x2="489.89" y2="183.64" stroke="#000" stroke-width="0.68"/>
<rect x="488.92" y="174.24" width="1.94" height="1.45" fill="#000"/>
<line x1="492.48" y1="160.50" x2="492.48" y2="180.75" stroke="#000" stroke-width="0.68"/>
<rect x="491.51" y="162.67" width="1.94" height="12.29" fill="#000"/>
<rect x="492.12" y="163.32" width="0.72" height="10.99" fill="#fff"/>
<line x1="495.06" y1="156.16" x2="495.06" y2="164.84" stroke="#000" stroke-width="0.68"/>
<rect x="494.09" y="159.05" width="1.94" height="4.34" fill="#000"/>
<rect x="494.70" y="159.70" width="0.72" height="3.04" fill="#fff"/>
<line x1="497.64" y1="135.56" x2="497.64" y2="162.32" stroke="#000" stroke-width="0.68"/>
<rect x="496.67" y="136.28" width="1.94" height="23.72" fill="#000"/>
<rect x="497.28" y="136.93" width="0.72" height="22.42" fill="#fff"/>
<line x1="500.23" y1="129.05" x2="500.23" y2="145.68" stroke="#000" stroke-width="0.68"/>
<rect x="499.26" y="134.11" width="1.94" height="2.17" fill="#000"/>
<line x1="502.81" y1="133.39" x2="502.81" y2="136.28" stroke="#000" stroke-width="0.68"/>
<rect x="501.84" y="134.55" width="1.94" height="1.16" fill="#000"/>
<line x1="505.40" y1="128.33" x2="505.40" y2="142.79" stroke="#000" stroke-width="0.68"/>
<rect x="504.43" y="130.50" width="1.94" height="5.06" fill="#000"/>
<rect x="505.04" y="131.15" width="0.72" height="3.76" fill="#fff"/>
<line x1="507.98" y1="120.37" x2="507.98" y2="137.73" stroke="#000" stroke-width="0.68"/>
<rect x="507.01" y="130.50" width="1.94" height="3.62" fill="#000"/>
<line x1="510.56" y1="108.08" x2="510.56" y2="137.73" stroke="#000" stroke-width="0.68"/>
<rect x="509.59" y="111.70" width="1.94" height="21.70" fill="#000"/>
<rect x="510.20" y="112.35" width="0.72" height="20.40" fill="#fff"/>
<line x1="513.15" y1="108.08" x2="513.15" y2="127.60" stroke="#000" stroke-width="0.68"/>
<rect x="512.18" y="111.70" width="1.94" height="7.95" fill="#000"/>
<line x1="515.73" y1="116.03" x2="515.73" y2="139.18" stroke="#000" stroke-width="0.68"/>
<rect x="514.76" y="118.93" width="1.94" height="14.46" fill="#000"/>
<line x1="518.32" y1="132.67" x2="518.32" y2="137.73" stroke="#000" stroke-width="0.68"/>
<rect x="517.35" y="133.39" width="1.94" height="1.45" fill="#000"/>
<line x1="520.90" y1="113.14" x2="520.90" y2="139.90" stroke="#000" stroke-width="0.68"/>
<rect x="519.93" y="117.48" width="1.94" height="20.25" fill="#000"/>
<rect x="520.54" y="118.13" width="0.72" height="18.95" fill="#fff"/>
<line x1="523.48" y1="109.53" x2="523.48" y2="120.37" stroke="#000" stroke-width="0.68"/>
<rect x="522.51" y="110.97" width="1.94" height="6.51" fill="#000"/>
<rect x="523.12" y="111.62" width="0.72" height="5.21" fill="#fff"/>
<line x1="526.07" y1="111.70" x2="526.07" y2="118.20" stroke="#000" stroke-width="0.68"/>
<rect x="525.10" y="115.31" width="1.94" height="2.17" fill="#000"/>
<line x1="528.65" y1="105.91" x2="528.65" y2="121.82" stroke="#000" stroke-width="0.68"/>
<rect x="527.68" y="108.08" width="1.94" height="8.68" fill="#000"/>
<rect x="528.29" y="108.73" width="0.72" height="7.38" fill="#fff"/>
<line x1="531.24" y1="106.63" x2="531.24" y2="111.70" stroke="#000" stroke-width="0.68"/>
<rect x="530.27" y="108.08" width="1.94" height="2.89" fill="#000"/>
<line x1="533.82" y1="92.89" x2="533.82" y2="113.14" stroke="#000" stroke-width="0.68"/>
<rect x="532.85" y="103.74" width="1.94" height="7.95" fill="#000"/>
<rect x="533.46" y="104.39" width="0.72" height="6.65" fill="#fff"/>
<line x1="536.40" y1="90.72" x2="536.40" y2="108.08" stroke="#000" stroke-width="0.68"/>
<rect x="535.43" y="94.34" width="1.94" height="9.40" fill="#000"/>
<rect x="536.04" y="94.99" width="0.72" height="8.10" fill="#fff"/>
<line x1="538.99" y1="75.37" x2="538.99" y2="102.85" stroke="#000" stroke-width="0.68"/>
<rect x="538.02" y="77.54" width="1.94" height="15.91" fill="#000"/>
<rect x="538.63" y="78.19" width="0.72" height="14.61" fill="#fff"/>
<line x1="541.57" y1="76.82" x2="541.57" y2="91.28" stroke="#000" stroke-width="0.68"/>
<rect x="540.60" y="77.54" width="1.94" height="10.85" fill="#000"/>
<line x1="544.16" y1="86.94" x2="544.16" y2="91.28" stroke="#000" stroke-width="0.68"/>
<rect x="543.19" y="88.39" width="1.94" height="2.17" fill="#000"/>
<line x1="546.74" y1="84.05" x2="546.74" y2="111.53" stroke="#000" stroke-width="0.68"/>
<rect x="545.77" y="89.84" width="1.94" height="10.12" fill="#000"/>
<line x1="549.32" y1="86.22" x2="549.32" y2="107.92" stroke="#000" stroke-width="0.68"/>
<rect x="548.35" y="88.39" width="1.94" height="10.85" fill="#000"/>
<rect x="548.96" y="89.04" width="0.72" height="9.55" fill="#fff"/>
<line x1="551.91" y1="77.54" x2="551.91" y2="91.28" stroke="#000" stroke-width="0.68"/>
<rect x="550.94" y="81.16" width="1.94" height="7.23" fill="#000"/>
<rect x="551.55" y="81.81" width="0.72" height="5.93" fill="#fff"/>
<line x1="554.49" y1="77.54" x2="554.49" y2="88.39" stroke="#000" stroke-width="0.68"/>
<rect x="553.52" y="78.99" width="1.94" height="2.17" fill="#000"/>
<rect x="554.13" y="79.64" width="0.72" height="0.87" fill="#fff"/>
<line x1="557.08" y1="60.91" x2="557.08" y2="84.05" stroke="#000" stroke-width="0.68"/>
<rect x="556.11" y="66.70" width="1.94" height="13.02" fill="#000"/>
<rect x="556.72" y="67.35" width="0.72" height="11.72" fill="#fff"/>
<line x1="559.66" y1="65.97" x2="559.66" y2="69.59" stroke="#000" stroke-width="0.68"/>
<rect x="558.69" y="66.70" width="1.94" height="2.17" fill="#000"/>
<line x1="562.24" y1="57.29" x2="562.24" y2="70.31" stroke="#000" stroke-width="0.68"/>
<rect x="561.27" y="62.36" width="1.94" height="6.51" fill="#000"/>
<rect x="561.88" y="63.01" width="0.72" height="5.21" fill="#fff"/>
<line x1="564.83" y1="61.63" x2="564.83" y2="79.71" stroke="#000" stroke-width="0.68"/>
<rect x="563.86" y="62.36" width="1.94" height="16.63" fill="#000"/>
<line x1="567.41" y1="71.76" x2="567.41" y2="92.01" stroke="#000" stroke-width="0.68"/>
<rect x="566.44" y="77.54" width="1.94" height="1.45" fill="#000"/>
<line x1="570.00" y1="75.37" x2="570.00" y2="85.50" stroke="#000" stroke-width="0.68"/>
<rect x="569.03" y="78.27" width="1.94" height="3.62" fill="#000"/>
<line x1="572.58" y1="70.31" x2="572.58" y2="86.22" stroke="#000" stroke-width="0.68"/>
<rect x="571.61" y="71.76" width="1.94" height="10.12" fill="#000"/>
<rect x="572.22" y="72.41" width="0.72" height="8.82" fill="#fff"/>
<line x1="575.16" y1="70.31" x2="575.16" y2="73.93" stroke="#000" stroke-width="0.68"/>
<rect x="574.19" y="71.03" width="1.94" height="2.17" fill="#000"/>
<line x1="577.75" y1="71.03" x2="577.75" y2="99.24" stroke="#000" stroke-width="0.68"/>
<rect x="576.78" y="77.54" width="1.94" height="19.53" fill="#000"/>
<line x1="580.33" y1="81.16" x2="580.33" y2="100.68" stroke="#000" stroke-width="0.68"/>
<rect x="579.36" y="95.62" width="1.94" height="1.45" fill="#000"/>
<line x1="582.92" y1="91.28" x2="582.92" y2="105.02" stroke="#000" stroke-width="0.68"/>
<rect x="581.95" y="94.90" width="1.94" height="1.45" fill="#000"/>
<line x1="585.50" y1="83.33" x2="585.50" y2="100.68" stroke="#000" stroke-width="0.68"/>
<rect x="584.53" y="93.45" width="1.94" height="2.17" fill="#000"/>
<rect x="585.14" y="94.10" width="0.72" height="0.87" fill="#fff"/>
<line x1="588.08" y1="92.73" x2="588.08" y2="105.75" stroke="#000" stroke-width="0.68"/>
<rect x="587.11" y="94.18" width="1.94" height="2.89" fill="#000"/>
<line x1="590.67" y1="95.62" x2="590.67" y2="99.24" stroke="#000" stroke-width="0.68"/>
<rect x="589.70" y="96.35" width="1.94" height="2.17" fill="#000"/>
<line x1="593.25" y1="92.73" x2="593.25" y2="124.55" stroke="#000" stroke-width="0.68"/>
<rect x="592.28" y="101.41" width="1.94" height="7.23" fill="#000"/>
<line x1="595.84" y1="94.11" x2="595.84" y2="111.47" stroke="#000" stroke-width="0.68"/>
<rect x="594.87" y="102.07" width="1.94" height="6.51" fill="#000"/>
<rect x="595.48" y="102.72" width="0.72" height="5.21" fill="#fff"/>
<line x1="598.42" y1="87.60" x2="598.42" y2="104.24" stroke="#000" stroke-width="0.68"/>
<rect x="597.45" y="93.39" width="1.94" height="8.68" fill="#000"/>
<rect x="598.06" y="94.04" width="0.72" height="7.38" fill="#fff"/>
<line x1="601.00" y1="83.99" x2="601.00" y2="98.45" stroke="#000" stroke-width="0.68"/>
<rect x="600.03" y="86.88" width="1.94" height="6.51" fill="#000"/>
<rect x="600.64" y="87.53" width="0.72" height="5.21" fill="#fff"/>
<line x1="603.59" y1="81.10" x2="603.59" y2="97.73" stroke="#000" stroke-width="0.68"/>
<rect x="602.62" y="83.27" width="1.94" height="3.62" fill="#000"/>
<rect x="603.23" y="83.92" width="0.72" height="2.32" fill="#fff"/>
<line x1="606.17" y1="81.10" x2="606.17" y2="84.71" stroke="#000" stroke-width="0.68"/>
<rect x="605.20" y="82.54" width="1.94" height="1.45" fill="#000"/>
<line x1="608.76" y1="57.95" x2="608.76" y2="83.99" stroke="#000" stroke-width="0.68"/>
<rect x="607.79" y="69.53" width="1.94" height="9.40" fill="#000"/>
<line x1="611.34" y1="76.76" x2="611.34" y2="100.62" stroke="#000" stroke-width="0.68"/>
<rect x="610.37" y="78.20" width="1.94" height="20.97" fill="#000"/>
<line x1="613.92" y1="97.01" x2="613.92" y2="113.64" stroke="#000" stroke-width="0.68"/>
<rect x="612.95" y="99.90" width="1.94" height="9.40" fill="#000"/>
<line x1="616.51" y1="96.28" x2="616.51" y2="113.64" stroke="#000" stroke-width="0.68"/>
<rect x="615.54" y="99.90" width="1.94" height="8.68" fill="#000"/>
<rect x="616.15" y="100.55" width="0.72" height="7.38" fill="#fff"/>
<line x1="619.09" y1="83.99" x2="619.09" y2="100.62" stroke="#000" stroke-width="0.68"/>
<rect x="618.12" y="86.88" width="1.94" height="13.02" fill="#000"/>
<rect x="618.73" y="87.53" width="0.72" height="11.72" fill="#fff"/>
<line x1="621.68" y1="84.71" x2="621.68" y2="88.33" stroke="#000" stroke-width="0.68"/>
<rect x="620.71" y="85.44" width="1.94" height="2.17" fill="#000"/>
<line x1="624.26" y1="79.65" x2="624.26" y2="86.88" stroke="#000" stroke-width="0.68"/>
<rect x="623.29" y="81.10" width="1.94" height="4.34" fill="#000"/>
<rect x="623.90" y="81.75" width="0.72" height="3.04" fill="#fff"/>
<line x1="626.84" y1="74.59" x2="626.84" y2="85.44" stroke="#000" stroke-width="0.68"/>
<rect x="625.87" y="76.76" width="1.94" height="4.34" fill="#000"/>
<rect x="626.48" y="77.41" width="0.72" height="3.04" fill="#fff"/>
<line x1="629.43" y1="69.53" x2="629.43" y2="84.71" stroke="#000" stroke-width="0.68"/>
<rect x="628.46" y="76.03" width="1.94" height="1.45" fill="#000"/>
<line x1="632.01" y1="73.86" x2="632.01" y2="105.68" stroke="#000" stroke-width="0.68"/>
<rect x="631.04" y="76.03" width="1.94" height="28.93" fill="#000"/>
<line x1="634.60" y1="100.00" x2="634.60" y2="122.42" stroke="#000" stroke-width="0.68"/>
<rect x="633.63" y="105.06" width="1.94" height="10.12" fill="#000"/>
<line x1="637.18" y1="113.02" x2="637.18" y2="118.08" stroke="#000" stroke-width="0.68"/>
<rect x="636.21" y="115.19" width="1.94" height="1.45" fill="#000"/>
<line x1="639.76" y1="109.40" x2="639.76" y2="122.42" stroke="#000" stroke-width="0.68"/>
<rect x="638.79" y="111.57" width="1.94" height="10.12" fill="#000"/>
<rect x="639.40" y="112.22" width="0.72" height="8.82" fill="#fff"/>
<line x1="642.35" y1="102.17" x2="642.35" y2="114.46" stroke="#000" stroke-width="0.68"/>
<rect x="641.38" y="103.62" width="1.94" height="7.95" fill="#000"/>
<rect x="641.99" y="104.27" width="0.72" height="6.65" fill="#fff"/>
<line x1="644.93" y1="100.00" x2="644.93" y2="107.23" stroke="#000" stroke-width="0.68"/>
<rect x="643.96" y="101.45" width="1.94" height="2.17" fill="#000"/>
<rect x="644.57" y="102.10" width="0.72" height="0.87" fill="#fff"/>
<line x1="647.52" y1="100.72" x2="647.52" y2="120.97" stroke="#000" stroke-width="0.68"/>
<rect x="646.55" y="101.45" width="1.94" height="18.80" fill="#000"/>
<line x1="650.10" y1="112.29" x2="650.10" y2="123.86" stroke="#000" stroke-width="0.68"/>
<rect x="649.13" y="120.25" width="1.94" height="2.17" fill="#000"/>
<line x1="652.68" y1="120.97" x2="652.68" y2="123.14" stroke="#000" stroke-width="0.68"/>
<rect x="651.71" y="121.70" width="1.94" height="1.01" fill="#000"/>
<line x1="655.27" y1="114.46" x2="655.27" y2="127.48" stroke="#000" stroke-width="0.68"/>
<rect x="654.30" y="121.70" width="1.94" height="1.45" fill="#000"/>
<line x1="657.85" y1="120.25" x2="657.85" y2="139.05" stroke="#000" stroke-width="0.68"/>
<rect x="656.88" y="121.70" width="1.94" height="13.02" fill="#000"/>
<line x1="660.44" y1="123.86" x2="660.44" y2="138.33" stroke="#000" stroke-width="0.68"/>
<rect x="659.47" y="129.65" width="1.94" height="5.06" fill="#000"/>
<rect x="660.08" y="130.30" width="0.72" height="3.76" fill="#fff"/>
<line x1="663.02" y1="112.29" x2="663.02" y2="134.71" stroke="#000" stroke-width="0.68"/>
<rect x="662.05" y="116.63" width="1.94" height="13.74" fill="#000"/>
<rect x="662.66" y="117.28" width="0.72" height="12.44" fill="#fff"/>
<line x1="665.60" y1="104.34" x2="665.60" y2="118.80" stroke="#000" stroke-width="0.68"/>
<rect x="664.63" y="107.23" width="1.94" height="9.40" fill="#000"/>
<rect x="665.24" y="107.88" width="0.72" height="8.10" fill="#fff"/>
<line x1="668.19" y1="104.34" x2="668.19" y2="108.68" stroke="#000" stroke-width="0.68"/>
<rect x="667.22" y="105.79" width="1.94" height="1.45" fill="#000"/>
<line x1="670.77" y1="105.06" x2="670.77" y2="125.31" stroke="#000" stroke-width="0.68"/>
<rect x="669.80" y="107.23" width="1.94" height="16.63" fill="#000"/>
<line x1="673.36" y1="122.42" x2="673.36" y2="150.19" stroke="#000" stroke-width="0.68"/>
<rect x="672.39" y="123.86" width="1.94" height="22.71" fill="#000"/>
<line x1="675.94" y1="137.89" x2="675.94" y2="155.25" stroke="#000" stroke-width="0.68"/>
<rect x="674.97" y="140.79" width="1.94" height="5.79" fill="#000"/>
<rect x="675.58" y="141.44" width="0.72" height="4.49" fill="#fff"/>
<line x1="678.52" y1="135.00" x2="678.52" y2="163.20" stroke="#000" stroke-width="0.68"/>
<rect x="677.55" y="140.79" width="1.94" height="20.97" fill="#000"/>
<line x1="681.11" y1="159.59" x2="681.11" y2="180.56" stroke="#000" stroke-width="0.68"/>
<rect x="680.14" y="161.03" width="1.94" height="10.85" fill="#000"/>
<line x1="683.69" y1="170.44" x2="683.69" y2="173.33" stroke="#000" stroke-width="0.68"/>
<rect x="682.72" y="171.16" width="1.94" height="1.45" fill="#000"/>
<line x1="686.28" y1="163.93" x2="686.28" y2="182.73" stroke="#000" stroke-width="0.68"/>
<rect x="685.31" y="165.37" width="1.94" height="6.51" fill="#000"/>
<rect x="685.92" y="166.02" width="0.72" height="5.21" fill="#fff"/>
<line x1="688.86" y1="161.03" x2="688.86" y2="178.39" stroke="#000" stroke-width="0.68"/>
<rect x="687.89" y="164.65" width="1.94" height="4.34" fill="#000"/>
<rect x="688.50" y="165.30" width="0.72" height="3.04" fill="#fff"/>
<line x1="691.44" y1="155.97" x2="691.44" y2="171.88" stroke="#000" stroke-width="0.68"/>
<rect x="690.47" y="165.37" width="1.94" height="2.17" fill="#000"/>
<rect x="691.08" y="166.02" width="0.72" height="0.87" fill="#fff"/>
<line x1="694.03" y1="154.53" x2="694.03" y2="169.71" stroke="#000" stroke-width="0.68"/>
<rect x="693.06" y="156.70" width="1.94" height="9.40" fill="#000"/>
<rect x="693.67" y="157.35" width="0.72" height="8.10" fill="#fff"/>
<line x1="696.61" y1="152.36" x2="696.61" y2="166.82" stroke="#000" stroke-width="0.68"/>
<rect x="695.64" y="156.70" width="1.94" height="9.40" fill="#000"/>
<rect x="696.25" y="157.35" width="0.72" height="8.10" fill="#fff"/>
<line x1="699.20" y1="155.97" x2="699.20" y2="171.16" stroke="#000" stroke-width="0.68"/>
<rect x="698.23" y="158.86" width="1.94" height="10.12" fill="#000"/>
<line x1="701.78" y1="164.65" x2="701.78" y2="182.73" stroke="#000" stroke-width="0.68"/>
<rect x="700.81" y="168.99" width="1.94" height="13.02" fill="#000"/>
<line x1="704.36" y1="167.54" x2="704.36" y2="182.73" stroke="#000" stroke-width="0.68"/>
<rect x="703.39" y="169.71" width="1.94" height="11.57" fill="#000"/>
<rect x="704.00" y="170.36" width="0.72" height="10.27" fill="#fff"/>
<line x1="706.95" y1="158.86" x2="706.95" y2="183.45" stroke="#000" stroke-width="0.68"/>
<rect x="705.98" y="167.54" width="1.94" height="11.57" fill="#000"/>
<rect x="706.59" y="168.19" width="0.72" height="10.27" fill="#fff"/>
<line x1="709.53" y1="159.59" x2="709.53" y2="171.16" stroke="#000" stroke-width="0.68"/>
<rect x="708.56" y="164.65" width="1.94" height="2.89" fill="#000"/>
<rect x="709.17" y="165.30" width="0.72" height="1.59" fill="#fff"/>
<line x1="712.12" y1="154.53" x2="712.12" y2="170.44" stroke="#000" stroke-width="0.68"/>
<rect x="711.15" y="155.25" width="1.94" height="8.68" fill="#000"/>
<line x1="714.70" y1="156.70" x2="714.70" y2="170.44" stroke="#000" stroke-width="0.68"/>
<rect x="713.73" y="163.20" width="1.94" height="1.45" fill="#000"/>
<line x1="717.28" y1="156.70" x2="717.28" y2="168.99" stroke="#000" stroke-width="0.68"/>
<rect x="716.31" y="161.03" width="1.94" height="5.79" fill="#000"/>
<rect x="716.92" y="161.68" width="0.72" height="4.49" fill="#fff"/>
<line x1="719.87" y1="158.14" x2="719.87" y2="169.71" stroke="#000" stroke-width="0.68"/>
<rect x="718.90" y="161.03" width="1.94" height="6.51" fill="#000"/>
<line x1="722.45" y1="162.48" x2="722.45" y2="171.16" stroke="#000" stroke-width="0.68"/>
<rect x="721.48" y="167.54" width="1.94" height="2.89" fill="#000"/>
<line x1="725.04" y1="154.53" x2="725.04" y2="176.94" stroke="#000" stroke-width="0.68"/>
<rect x="724.07" y="161.76" width="1.94" height="12.29" fill="#000"/>
<rect x="724.68" y="162.41" width="0.72" height="10.99" fill="#fff"/>
<line x1="727.62" y1="156.70" x2="727.62" y2="166.10" stroke="#000" stroke-width="0.68"/>
<rect x="726.65" y="161.03" width="1.94" height="1.45" fill="#000"/>
<line x1="730.20" y1="156.70" x2="730.20" y2="167.54" stroke="#000" stroke-width="0.68"/>
<rect x="729.23" y="161.03" width="1.94" height="5.06" fill="#000"/>
<line x1="732.79" y1="162.50" x2="732.79" y2="243.00" stroke="#000" stroke-width="0.68"/>
<rect x="731.82" y="164.00" width="1.94" height="67.00" fill="#000"/>
<line x1="735.37" y1="220.00" x2="735.37" y2="263.30" stroke="#000" stroke-width="0.68"/>
<rect x="734.40" y="227.00" width="1.94" height="15.40" fill="#000"/>
<rect x="735.01" y="227.65" width="0.72" height="14.10" fill="#fff"/>
<line x1="737.96" y1="206.20" x2="737.96" y2="270.60" stroke="#000" stroke-width="0.68"/>
<rect x="736.99" y="228.00" width="1.94" height="14.40" fill="#000"/>
<rect x="737.60" y="228.65" width="0.72" height="13.10" fill="#fff"/>
<line x1="740.54" y1="226.50" x2="740.54" y2="268.40" stroke="#000" stroke-width="0.68"/>
<rect x="739.57" y="229.30" width="1.94" height="35.50" fill="#000"/>
<line x1="743.12" y1="231.50" x2="743.12" y2="295.80" stroke="#000" stroke-width="0.68"/>
<rect x="742.15" y="237.30" width="1.94" height="28.20" fill="#000"/>
<rect x="742.76" y="237.95" width="0.72" height="26.90" fill="#fff"/>
<line x1="745.71" y1="234.40" x2="745.71" y2="334.00" stroke="#000" stroke-width="0.68"/>
<rect x="744.74" y="238.00" width="1.94" height="94.70" fill="#000"/>
<line x1="748.29" y1="324.00" x2="748.29" y2="369.70" stroke="#000" stroke-width="0.68"/>
<rect x="747.32" y="332.70" width="1.94" height="24.70" fill="#000"/>
<line x1="750.88" y1="321.90" x2="750.88" y2="364.00" stroke="#000" stroke-width="0.68"/>
<rect x="749.91" y="347.00" width="1.94" height="13.00" fill="#000"/>
<line x1="753.46" y1="329.80" x2="753.46" y2="363.20" stroke="#000" stroke-width="0.68"/>
<rect x="752.49" y="334.20" width="1.94" height="23.80" fill="#000"/>
<rect x="753.10" y="334.85" width="0.72" height="22.50" fill="#fff"/>
<line x1="756.04" y1="332.00" x2="756.04" y2="364.00" stroke="#000" stroke-width="0.68"/>
<rect x="755.07" y="338.50" width="1.94" height="23.30" fill="#000"/>
<line x1="758.63" y1="332.00" x2="758.63" y2="366.00" stroke="#000" stroke-width="0.68"/>
<rect x="757.66" y="343.60" width="1.94" height="18.20" fill="#000"/>
<rect x="758.27" y="344.25" width="0.72" height="16.90" fill="#fff"/>
<line x1="761.21" y1="342.00" x2="761.21" y2="355.00" stroke="#000" stroke-width="0.68"/>
<rect x="760.24" y="343.70" width="1.94" height="10.10" fill="#000"/>
<line x1="763.80" y1="350.00" x2="763.80" y2="386.60" stroke="#000" stroke-width="0.68"/>
<rect x="762.83" y="351.00" width="1.94" height="22.30" fill="#000"/>
<line x1="766.38" y1="363.00" x2="766.38" y2="379.00" stroke="#000" stroke-width="0.68"/>
<rect x="765.41" y="366.80" width="1.94" height="7.20" fill="#000"/>
<rect x="766.02" y="367.45" width="0.72" height="5.90" fill="#fff"/>
</g>
<path d="M2,173 C3.17,171.83 6.58,168.38 9,166 C11.42,163.62 14.17,160.83 16.5,158.7 C18.83,156.57 20.79,155.00 23,153.2 C25.21,151.40 27.67,149.47 29.75,147.9 C31.83,146.33 33.58,145.17 35.5,143.8 C37.42,142.43 39.13,141.20 41.3,139.7 C43.47,138.20 46.02,136.46 48.5,134.8 C50.98,133.14 53.70,131.47 56.2,129.75 C58.70,128.03 61.03,126.24 63.5,124.5 C65.97,122.76 68.75,120.67 71,119.3 C73.25,117.93 75.08,117.22 77,116.3 C78.92,115.38 79.92,115.13 82.5,113.75 C85.08,112.37 89.58,109.67 92.5,108 C95.42,106.33 97.50,105.42 100,103.75 C102.50,102.08 105.00,99.88 107.5,98 C110.00,96.12 112.50,94.04 115,92.5 C117.50,90.96 120.00,89.08 122.5,88.75 C125.00,88.42 127.08,89.88 130,90.5 C132.92,91.12 136.67,91.96 140,92.5 C143.33,93.04 147.08,93.00 150,93.75 C152.92,94.50 155.00,95.83 157.5,97 C160.00,98.17 162.08,99.42 165,100.75 C167.92,102.08 171.67,103.79 175,105 C178.33,106.21 181.67,106.96 185,108 C188.33,109.04 191.67,110.38 195,111.25 C198.33,112.12 201.67,112.42 205,113.25 C208.33,114.08 211.67,115.04 215,116.25 C218.33,117.46 221.67,118.71 225,120.5 C228.33,122.29 232.50,125.08 235,127 C237.50,128.92 237.50,129.21 240,132 C242.50,134.79 245.83,140.12 250,143.75 C254.17,147.38 260.00,150.21 265,153.75 C270.00,157.29 274.58,160.21 280,165 C285.42,169.79 291.67,176.25 297.5,182.5 C303.33,188.75 309.17,195.83 315,202.5 C320.83,209.17 327.50,217.08 332.5,222.5 C337.50,227.92 341.25,231.46 345,235 C348.75,238.54 351.67,241.46 355,243.75 C358.33,246.04 361.67,247.79 365,248.75 C368.33,249.71 372.08,249.54 375,249.5 C377.92,249.46 379.58,248.54 382.5,248.5 C385.42,248.46 389.58,249.21 392.5,249.25 C395.42,249.29 397.08,249.38 400,248.75 C402.92,248.12 406.67,246.75 410,245.5 C413.33,244.25 416.67,243.00 420,241.25 C423.33,239.50 426.67,237.62 430,235 C433.33,232.38 436.67,228.62 440,225.5 C443.33,222.38 446.67,219.25 450,216.25 C453.33,213.25 456.67,210.38 460,207.5 C463.33,204.62 466.67,201.83 470,199 C473.33,196.17 476.67,192.83 480,190.5 C483.33,188.17 487.33,186.54 490,185 C492.67,183.46 493.83,182.75 496,181.25 C498.17,179.75 500.67,177.71 503,176 C505.33,174.29 507.17,172.83 510,171 C512.83,169.17 516.67,167.25 520,165 C523.33,162.75 526.67,160.21 530,157.5 C533.33,154.79 536.67,151.75 540,148.75 C543.33,145.75 546.67,142.42 550,139.5 C553.33,136.58 556.67,133.67 560,131.25 C563.33,128.83 566.67,126.88 570,125 C573.33,123.12 576.67,121.46 580,120 C583.33,118.54 586.67,117.71 590,116.25 C593.33,114.79 596.67,112.92 600,111.25 C603.33,109.58 606.67,108.12 610,106.25 C613.33,104.38 616.67,101.88 620,100 C623.33,98.12 626.67,96.12 630,95 C633.33,93.88 636.67,93.67 640,93.25 C643.33,92.83 646.67,92.42 650,92.5 C653.33,92.58 656.67,93.12 660,93.75 C663.33,94.38 667.08,95.29 670,96.25 C672.92,97.21 675.00,98.04 677.5,99.5 C680.00,100.96 682.08,102.83 685,105 C687.92,107.17 691.67,110.08 695,112.5 C698.33,114.92 701.67,117.42 705,119.5 C708.33,121.58 711.67,123.25 715,125 C718.33,126.75 722.29,128.42 725,130 C727.71,131.58 729.42,133.04 731.25,134.5 C733.08,135.96 734.12,136.58 736,138.75 C737.88,140.92 740.17,143.54 742.5,147.5 C744.83,151.46 747.50,157.71 750,162.5 C752.50,167.29 754.88,171.08 757.5,176.25 C760.12,181.42 764.38,190.62 765.75,193.5" fill="none" stroke="#00008b" stroke-width="1.3" stroke-linejoin="round" stroke-linecap="butt"/>
<path d="M2,156.25 C3.33,154.79 7.00,150.71 10,147.5 C13.00,144.29 17.08,140.42 20,137 C22.92,133.58 25.00,130.75 27.5,127 C30.00,123.25 32.50,118.33 35,114.5 C37.50,110.67 40.00,107.08 42.5,104 C45.00,100.92 47.50,98.12 50,96 C52.50,93.88 55.00,92.75 57.5,91.25 C60.00,89.75 62.50,88.25 65,87 C67.50,85.75 70.00,84.58 72.5,83.75 C75.00,82.92 77.71,82.29 80,82 C82.29,81.71 84.17,81.58 86.25,82 C88.33,82.42 90.21,83.75 92.5,84.5 C94.79,85.25 97.50,86.25 100,86.5 C102.50,86.75 105.00,86.17 107.5,86 C110.00,85.83 112.92,85.50 115,85.5 C117.08,85.50 118.33,85.25 120,86 C121.67,86.75 122.92,88.50 125,90 C127.08,91.50 130.00,93.33 132.5,95 C135.00,96.67 137.50,98.54 140,100 C142.50,101.46 145.00,102.29 147.5,103.75 C150.00,105.21 152.50,106.46 155,108.75 C157.50,111.04 160.00,114.58 162.5,117.5 C165.00,120.42 167.92,124.17 170,126.25 C172.08,128.33 172.92,129.25 175,130 C177.08,130.75 180.00,130.96 182.5,130.75 C185.00,130.54 187.08,129.38 190,128.75 C192.92,128.12 196.67,127.33 200,127 C203.33,126.67 207.08,126.79 210,126.75 C212.92,126.71 215.00,126.42 217.5,126.75 C220.00,127.08 222.50,127.58 225,128.75 C227.50,129.92 230.42,131.88 232.5,133.75 C234.58,135.62 235.83,137.29 237.5,140 C239.17,142.71 240.83,146.67 242.5,150 C244.17,153.33 245.42,156.25 247.5,160 C249.58,163.75 252.08,168.12 255,172.5 C257.92,176.88 262.08,182.29 265,186.25 C267.92,190.21 270.00,192.29 272.5,196.25 C275.00,200.21 277.50,205.00 280,210 C282.50,215.00 285.00,221.67 287.5,226.25 C290.00,230.83 292.50,235.21 295,237.5 C297.50,239.79 300.00,238.54 302.5,240 C305.00,241.46 307.50,244.17 310,246.25 C312.50,248.33 315.42,250.42 317.5,252.5 C319.58,254.58 320.83,257.08 322.5,258.75 C324.17,260.42 325.42,261.71 327.5,262.5 C329.58,263.29 332.08,263.33 335,263.5 C337.92,263.67 341.88,263.38 345,263.5 C348.12,263.62 351.25,264.62 353.75,264.25 C356.25,263.88 357.29,262.46 360,261.25 C362.71,260.04 367.08,258.46 370,257 C372.92,255.54 375.00,254.50 377.5,252.5 C380.00,250.50 382.08,247.71 385,245 C387.92,242.29 391.67,239.58 395,236.25 C398.33,232.92 401.67,228.33 405,225 C408.33,221.67 411.67,219.17 415,216.25 C418.33,213.33 421.67,210.83 425,207.5 C428.33,204.17 432.50,198.96 435,196.25 C437.50,193.54 437.50,193.96 440,191.25 C442.50,188.54 446.67,183.54 450,180 C453.33,176.46 456.67,173.12 460,170 C463.33,166.88 466.67,163.62 470,161.25 C473.33,158.88 477.08,156.38 480,155.75 C482.92,155.12 485.00,157.00 487.5,157.5 C490.00,158.00 492.50,158.96 495,158.75 C497.50,158.54 500.00,157.21 502.5,156.25 C505.00,155.29 507.50,153.83 510,153 C512.50,152.17 515.00,152.58 517.5,151.25 C520.00,149.92 522.50,147.50 525,145 C527.50,142.50 530.00,139.42 532.5,136.25 C535.00,133.08 537.50,129.38 540,126 C542.50,122.62 545.00,119.08 547.5,116 C550.00,112.92 552.50,110.17 555,107.5 C557.50,104.83 560.00,102.47 562.5,100 C565.00,97.53 567.71,94.82 570,92.7 C572.29,90.58 574.17,88.55 576.25,87.3 C578.33,86.05 580.42,85.77 582.5,85.2 C584.58,84.63 586.67,83.73 588.75,83.9 C590.83,84.08 592.92,85.86 595,86.25 C597.08,86.64 599.17,86.46 601.25,86.25 C603.33,86.04 605.62,84.79 607.5,85 C609.38,85.21 610.83,86.58 612.5,87.5 C614.17,88.42 615.42,89.88 617.5,90.5 C619.58,91.12 622.92,91.12 625,91.25 C627.08,91.38 628.33,90.75 630,91.25 C631.67,91.75 632.92,93.42 635,94.25 C637.08,95.08 640.00,95.71 642.5,96.25 C645.00,96.79 647.50,96.67 650,97.5 C652.50,98.33 655.00,99.92 657.5,101.25 C660.00,102.58 662.71,104.38 665,105.5 C667.29,106.62 669.17,106.33 671.25,108 C673.33,109.67 675.88,113.42 677.5,115.5 C679.12,117.58 679.75,118.53 681,120.5 C682.25,122.47 683.08,124.92 685,127.3 C686.92,129.68 690.00,132.38 692.5,134.8 C695.00,137.22 697.50,139.48 700,141.8 C702.50,144.12 705.00,146.76 707.5,148.75 C710.00,150.74 712.50,151.67 715,153.75 C717.50,155.83 719.58,158.88 722.5,161.25 C725.42,163.62 729.17,164.46 732.5,168 C735.83,171.54 739.79,176.75 742.5,182.5 C745.21,188.25 746.67,195.83 748.75,202.5 C750.83,209.17 752.92,215.62 755,222.5 C757.08,229.38 759.46,237.78 761.25,243.75 C763.04,249.72 765.00,255.88 765.75,258.3" fill="none" stroke="#ff0000" stroke-width="1.3" stroke-linejoin="round" stroke-linecap="butt"/>
<g fill="none"><line x1="1.6" y1="1" x2="1.6" y2="474" stroke="#4a4a4a" stroke-width="1.1"/><line x1="1" y1="1.45" x2="991" y2="1.45" stroke="#5a5a5a" stroke-width="0.9"/><line x1="990.2" y1="1" x2="990.2" y2="471" stroke="#6a6a6a" stroke-width="1.1"/><line x1="1" y1="470.4" x2="990.8" y2="470.4" stroke="#3a3a3a" stroke-width="1.1"/></g>
<g font-size="7" fill="#111" stroke="#111" stroke-width="0.2" filter="url(#bt)">
<line x1="990" y1="14.40" x2="993.2" y2="14.40" stroke="#222" stroke-width="0.9"/>
<text x="993.4" y="17.00" textLength="21.6" lengthAdjust="spacingAndGlyphs">0.93510</text>
<line x1="990" y1="35.13" x2="993.2" y2="35.13" stroke="#222" stroke-width="0.9"/>
<text x="993.4" y="37.73" textLength="21.6" lengthAdjust="spacingAndGlyphs">0.92780</text>
<line x1="990" y1="55.85" x2="993.2" y2="55.85" stroke="#222" stroke-width="0.9"/>
<text x="993.4" y="58.45" textLength="21.6" lengthAdjust="spacingAndGlyphs">0.92050</text>
<line x1="990" y1="76.58" x2="993.2" y2="76.58" stroke="#222" stroke-width="0.9"/>
<text x="993.4" y="79.18" textLength="21.6" lengthAdjust="spacingAndGlyphs">0.91320</text>
<line x1="990" y1="97.30" x2="993.2" y2="97.30" stroke="#222" stroke-width="0.9"/>
<text x="993.4" y="99.90" textLength="21.6" lengthAdjust="spacingAndGlyphs">0.90590</text>
<line x1="990" y1="118.03" x2="993.2" y2="118.03" stroke="#222" stroke-width="0.9"/>
<text x="993.4" y="120.63" textLength="21.6" lengthAdjust="spacingAndGlyphs">0.89860</text>
<line x1="990" y1="138.76" x2="993.2" y2="138.76" stroke="#222" stroke-width="0.9"/>
<text x="993.4" y="141.36" textLength="21.6" lengthAdjust="spacingAndGlyphs">0.89130</text>
<line x1="990" y1="159.48" x2="993.2" y2="159.48" stroke="#222" stroke-width="0.9"/>
<text x="993.4" y="162.08" textLength="21.6" lengthAdjust="spacingAndGlyphs">0.88400</text>
<line x1="990" y1="180.21" x2="993.2" y2="180.21" stroke="#222" stroke-width="0.9"/>
<text x="993.4" y="182.81" textLength="21.6" lengthAdjust="spacingAndGlyphs">0.87670</text>
<line x1="990" y1="200.93" x2="993.2" y2="200.93" stroke="#222" stroke-width="0.9"/>
<text x="993.4" y="203.53" textLength="21.6" lengthAdjust="spacingAndGlyphs">0.86940</text>
<line x1="990" y1="221.66" x2="993.2" y2="221.66" stroke="#222" stroke-width="0.9"/>
<text x="993.4" y="224.26" textLength="21.6" lengthAdjust="spacingAndGlyphs">0.86210</text>
<line x1="990" y1="242.39" x2="993.2" y2="242.39" stroke="#222" stroke-width="0.9"/>
<text x="993.4" y="244.99" textLength="21.6" lengthAdjust="spacingAndGlyphs">0.85480</text>
<line x1="990" y1="263.11" x2="993.2" y2="263.11" stroke="#222" stroke-width="0.9"/>
<text x="993.4" y="265.71" textLength="21.6" lengthAdjust="spacingAndGlyphs">0.84750</text>
<line x1="990" y1="283.84" x2="993.2" y2="283.84" stroke="#222" stroke-width="0.9"/>
<text x="993.4" y="286.44" textLength="21.6" lengthAdjust="spacingAndGlyphs">0.84020</text>
<line x1="990" y1="304.56" x2="993.2" y2="304.56" stroke="#222" stroke-width="0.9"/>
<text x="993.4" y="307.16" textLength="21.6" lengthAdjust="spacingAndGlyphs">0.83290</text>
<line x1="990" y1="325.29" x2="993.2" y2="325.29" stroke="#222" stroke-width="0.9"/>
<text x="993.4" y="327.89" textLength="21.6" lengthAdjust="spacingAndGlyphs">0.82560</text>
<line x1="990" y1="346.02" x2="993.2" y2="346.02" stroke="#222" stroke-width="0.9"/>
<text x="993.4" y="348.62" textLength="21.6" lengthAdjust="spacingAndGlyphs">0.81830</text>
<line x1="990" y1="366.74" x2="993.2" y2="366.74" stroke="#222" stroke-width="0.9"/>
<text x="993.4" y="369.34" textLength="21.6" lengthAdjust="spacingAndGlyphs">0.81100</text>
<line x1="990" y1="387.47" x2="993.2" y2="387.47" stroke="#222" stroke-width="0.9"/>
<text x="993.4" y="390.07" textLength="21.6" lengthAdjust="spacingAndGlyphs">0.80370</text>
<line x1="990" y1="408.19" x2="993.2" y2="408.19" stroke="#222" stroke-width="0.9"/>
<text x="993.4" y="410.79" textLength="21.6" lengthAdjust="spacingAndGlyphs">0.79640</text>
<line x1="990" y1="428.92" x2="993.2" y2="428.92" stroke="#222" stroke-width="0.9"/>
<text x="993.4" y="431.52" textLength="21.6" lengthAdjust="spacingAndGlyphs">0.78910</text>
<line x1="990" y1="449.65" x2="993.2" y2="449.65" stroke="#222" stroke-width="0.9"/>
<text x="993.4" y="452.25" textLength="21.6" lengthAdjust="spacingAndGlyphs">0.78180</text>
</g>
<rect x="991.9" y="363" width="25.1" height="7" fill="#c0c0c0"/>
<text x="993.4" y="369" font-size="7" fill="#fff" textLength="21.6" lengthAdjust="spacingAndGlyphs">0.81104</text>
<rect x="991.9" y="53.70" width="25.1" height="7.2" fill="#ff0000"/>
<text x="993.4" y="59.70" font-size="7" fill="#fff" textLength="21.6" lengthAdjust="spacingAndGlyphs" filter="url(#bt)">0.92000</text>
<rect x="991.9" y="95.90" width="25.1" height="7.2" fill="#ff0000"/>
<text x="993.4" y="101.90" font-size="7" fill="#fff" textLength="21.6" lengthAdjust="spacingAndGlyphs" filter="url(#bt)">0.90500</text>
<rect x="991.9" y="134.70" width="25.1" height="7.2" fill="#ff0000"/>
<text x="993.4" y="140.70" font-size="7" fill="#fff" textLength="21.6" lengthAdjust="spacingAndGlyphs" filter="url(#bt)">0.89150</text>
<rect x="991.9" y="181.10" width="25.1" height="7.2" fill="#ff0000"/>
<text x="993.4" y="187.10" font-size="7" fill="#fff" textLength="21.6" lengthAdjust="spacingAndGlyphs" filter="url(#bt)">0.87500</text>
<rect x="991.9" y="219.90" width="25.1" height="7.2" fill="#ff0000"/>
<text x="993.4" y="225.90" font-size="7" fill="#fff" textLength="21.6" lengthAdjust="spacingAndGlyphs" filter="url(#bt)">0.86146</text>
<rect x="991.9" y="288.50" width="25.1" height="7.2" fill="#ff0000"/>
<text x="993.4" y="294.50" font-size="7" fill="#fff" textLength="21.6" lengthAdjust="spacingAndGlyphs" filter="url(#bt)">0.83750</text>
<rect x="991.9" y="318.10" width="25.1" height="7.2" fill="#ff0000"/>
<text x="993.4" y="324.10" font-size="7" fill="#fff" textLength="21.6" lengthAdjust="spacingAndGlyphs" filter="url(#bt)">0.82700</text>
<rect x="991.9" y="366.50" width="25.1" height="7.2" fill="#ff0000"/>
<text x="993.4" y="372.50" font-size="7" fill="#fff" textLength="21.6" lengthAdjust="spacingAndGlyphs" filter="url(#bt)">0.81000</text>
<rect x="991.9" y="383.00" width="25.1" height="7.2" fill="#ff0000"/>
<text x="993.4" y="389.00" font-size="7" fill="#fff" textLength="21.6" lengthAdjust="spacingAndGlyphs" filter="url(#bt)">0.80400</text>
<g font-size="6.7" fill="#111" stroke="#111" stroke-width="0.2" filter="url(#bt)">
<text x="0.95" y="478.6" textLength="33.69" lengthAdjust="spacingAndGlyphs">26 Mar 2024</text>
<line x1="42.84" y1="470" x2="42.84" y2="473.3" stroke="#222" stroke-width="0.9"/>
<text x="43.14" y="478.6" textLength="32.36" lengthAdjust="spacingAndGlyphs">17 Apr 2024</text>
<line x1="84.18" y1="470" x2="84.18" y2="473.3" stroke="#222" stroke-width="0.9"/>
<text x="84.48" y="478.6" textLength="31.35" lengthAdjust="spacingAndGlyphs">9 May 2024</text>
<line x1="125.52" y1="470" x2="125.52" y2="473.3" stroke="#222" stroke-width="0.9"/>
<text x="125.82" y="478.6" textLength="34.69" lengthAdjust="spacingAndGlyphs">31 May 2024</text>
<line x1="166.86" y1="470" x2="166.86" y2="473.3" stroke="#222" stroke-width="0.9"/>
<text x="167.16" y="478.6" textLength="33.03" lengthAdjust="spacingAndGlyphs">24 Jun 2024</text>
<line x1="208.20" y1="470" x2="208.20" y2="473.3" stroke="#222" stroke-width="0.9"/>
<text x="208.50" y="478.6" textLength="31.03" lengthAdjust="spacingAndGlyphs">16 Jul 2024</text>
<line x1="249.54" y1="470" x2="249.54" y2="473.3" stroke="#222" stroke-width="0.9"/>
<text x="249.84" y="478.6" textLength="30.36" lengthAdjust="spacingAndGlyphs">7 Aug 2024</text>
<line x1="290.88" y1="470" x2="290.88" y2="473.3" stroke="#222" stroke-width="0.9"/>
<text x="291.18" y="478.6" textLength="33.70" lengthAdjust="spacingAndGlyphs">29 Aug 2024</text>
<line x1="332.22" y1="470" x2="332.22" y2="473.3" stroke="#222" stroke-width="0.9"/>
<text x="332.52" y="478.6" textLength="34.03" lengthAdjust="spacingAndGlyphs">20 Sep 2024</text>
<line x1="373.56" y1="470" x2="373.56" y2="473.3" stroke="#222" stroke-width="0.9"/>
<text x="373.86" y="478.6" textLength="32.69" lengthAdjust="spacingAndGlyphs">14 Oct 2024</text>
<line x1="414.90" y1="470" x2="414.90" y2="473.3" stroke="#222" stroke-width="0.9"/>
<text x="415.20" y="478.6" textLength="30.69" lengthAdjust="spacingAndGlyphs">5 Nov 2024</text>
<line x1="456.24" y1="470" x2="456.24" y2="473.3" stroke="#222" stroke-width="0.9"/>
<text x="456.54" y="478.6" textLength="34.03" lengthAdjust="spacingAndGlyphs">23 Nov 2024</text>
<line x1="497.58" y1="470" x2="497.58" y2="473.3" stroke="#222" stroke-width="0.9"/>
<text x="497.88" y="478.6" textLength="34.03" lengthAdjust="spacingAndGlyphs">12 Dec 2024</text>
<line x1="538.92" y1="470" x2="538.92" y2="473.3" stroke="#222" stroke-width="0.9"/>
<text x="539.22" y="478.6" textLength="29.69" lengthAdjust="spacingAndGlyphs">2 Jan 2025</text>
<line x1="580.26" y1="470" x2="580.26" y2="473.3" stroke="#222" stroke-width="0.9"/>
<text x="580.56" y="478.6" textLength="33.03" lengthAdjust="spacingAndGlyphs">21 Jan 2025</text>
<line x1="621.60" y1="470" x2="621.60" y2="473.3" stroke="#222" stroke-width="0.9"/>
<text x="621.90" y="478.6" textLength="30.36" lengthAdjust="spacingAndGlyphs">8 Feb 2025</text>
<line x1="662.94" y1="470" x2="662.94" y2="473.3" stroke="#222" stroke-width="0.9"/>
<text x="663.24" y="478.6" textLength="33.69" lengthAdjust="spacingAndGlyphs">27 Feb 2025</text>
<line x1="704.28" y1="470" x2="704.28" y2="473.3" stroke="#222" stroke-width="0.9"/>
<text x="704.58" y="478.6" textLength="33.69" lengthAdjust="spacingAndGlyphs">19 Mar 2025</text>
<line x1="745.62" y1="470" x2="745.62" y2="473.3" stroke="#222" stroke-width="0.9"/>
<text x="745.92" y="478.6" textLength="32.36" lengthAdjust="spacingAndGlyphs">10 Apr 2025</text>
</g>
<g font-size="7" fill="#111" stroke="#111" stroke-width="0.2" filter="url(#bt)">
<text x="4.1" y="8.75" textLength="27.70" lengthAdjust="spacingAndGlyphs">USDCHF,</text>
<text x="34" y="8.75" textLength="16.00" lengthAdjust="spacingAndGlyphs">Daily:</text>
<text x="54" y="8.75" textLength="8.20" lengthAdjust="spacingAndGlyphs">US</text>
<text x="64.1" y="8.75" textLength="15.90" lengthAdjust="spacingAndGlyphs">Dollar</text>
<text x="82.2" y="8.75" textLength="5.90" lengthAdjust="spacingAndGlyphs">vs</text>
<text x="90" y="8.75" textLength="15.00" lengthAdjust="spacingAndGlyphs">Swiss</text>
<text x="107.8" y="8.75" textLength="14.40" lengthAdjust="spacingAndGlyphs">Franc</text>
</g>
<g filter="url(#bm)">
<rect x="308.4" y="460.2" width="26.80" height="8.20" fill="#efefef" stroke="#444" stroke-width="0.8"/>
<line x1="308.5" y1="460.2" x2="308.5" y2="470.4" stroke="#4a4a4a" stroke-width="0.9"/>
<line x1="311.5" y1="460.2" x2="311.5" y2="470.4" stroke="#4a4a4a" stroke-width="0.9"/>
<line x1="313.5" y1="460.2" x2="313.5" y2="470.4" stroke="#4a4a4a" stroke-width="0.9"/>
<line x1="316.5" y1="460.2" x2="316.5" y2="470.4" stroke="#4a4a4a" stroke-width="0.9"/>
<rect x="319.5" y="460.2" width="15.70" height="8.20" fill="#f8f8f8" stroke="#444" stroke-width="0.8"/>
<line x1="319.5" y1="468.4" x2="319.5" y2="470.4" stroke="#222" stroke-width="0.7"/>
<text x="319.97" y="466.80" font-size="6.7" fill="#333" stroke="#333" stroke-width="0.12" textLength="14.76" lengthAdjust="spacingAndGlyphs">22:30</text>
<path d="M335.2,460.2 L335.40000000000003,460.2 L337.6,464.29999999999995 L335.40000000000003,468.4 L335.2,468.4" fill="#f8f8f8" stroke="#444" stroke-width="0.8"/>
<line x1="335.2" y1="460.7" x2="335.2" y2="467.9" stroke="#f8f8f8" stroke-width="1"/>
</g>
<g filter="url(#bm)">
<rect x="473.9" y="460.2" width="70.30" height="8.20" fill="#efefef" stroke="#444" stroke-width="0.8"/>
<line x1="473.5" y1="460.2" x2="473.5" y2="470.4" stroke="#4a4a4a" stroke-width="0.9"/>
<line x1="475.5" y1="460.2" x2="475.5" y2="470.4" stroke="#4a4a4a" stroke-width="0.9"/>
<line x1="477.5" y1="460.2" x2="477.5" y2="470.4" stroke="#4a4a4a" stroke-width="0.9"/>
<line x1="489.5" y1="460.2" x2="489.5" y2="470.4" stroke="#4a4a4a" stroke-width="0.9"/>
<line x1="490.5" y1="460.2" x2="490.5" y2="470.4" stroke="#4a4a4a" stroke-width="0.9"/>
<line x1="492.5" y1="460.2" x2="492.5" y2="470.4" stroke="#4a4a4a" stroke-width="0.9"/>
<line x1="505.5" y1="460.2" x2="505.5" y2="470.4" stroke="#4a4a4a" stroke-width="0.9"/>
<line x1="507.5" y1="460.2" x2="507.5" y2="470.4" stroke="#4a4a4a" stroke-width="0.9"/>
<line x1="509.5" y1="460.2" x2="509.5" y2="470.4" stroke="#4a4a4a" stroke-width="0.9"/>
<line x1="510.5" y1="460.2" x2="510.5" y2="470.4" stroke="#4a4a4a" stroke-width="0.9"/>
<line x1="512.5" y1="460.2" x2="512.5" y2="470.4" stroke="#4a4a4a" stroke-width="0.9"/>
<line x1="520.5" y1="460.2" x2="520.5" y2="470.4" stroke="#4a4a4a" stroke-width="0.9"/>
<rect x="479.4" y="460.2" width="9.70" height="8.20" fill="#f8f8f8" stroke="#444" stroke-width="0.8"/>
<line x1="479.4" y1="468.4" x2="479.4" y2="470.4" stroke="#222" stroke-width="0.7"/>
<text x="480.97" y="466.80" font-size="6.7" fill="#333" stroke="#333" stroke-width="0.12" textLength="6.56" lengthAdjust="spacingAndGlyphs">21</text>
<rect x="494.2" y="460.2" width="11.30" height="8.20" fill="#f8f8f8" stroke="#444" stroke-width="0.8"/>
<line x1="494.2" y1="468.4" x2="494.2" y2="470.4" stroke="#222" stroke-width="0.7"/>
<text x="496.57" y="466.80" font-size="6.7" fill="#333" stroke="#333" stroke-width="0.12" textLength="6.56" lengthAdjust="spacingAndGlyphs">18</text>
<rect x="514.9" y="460.2" width="5.90" height="8.20" fill="#f8f8f8" stroke="#444" stroke-width="0.8"/>
<line x1="514.9" y1="468.4" x2="514.9" y2="470.4" stroke="#222" stroke-width="0.7"/>
<text x="516.21" y="466.80" font-size="6.7" fill="#333" stroke="#333" stroke-width="0.12" textLength="3.28" lengthAdjust="spacingAndGlyphs">2</text>
<rect x="523.9" y="460.2" width="4.30" height="8.20" fill="#f8f8f8" stroke="#444" stroke-width="0.8"/>
<line x1="523.9" y1="468.4" x2="523.9" y2="470.4" stroke="#222" stroke-width="0.7"/>
<text x="524.41" y="466.80" font-size="6.7" fill="#333" stroke="#333" stroke-width="0.12" textLength="3.28" lengthAdjust="spacingAndGlyphs">1</text>
<rect x="528.4" y="460.2" width="15.80" height="8.20" fill="#f8f8f8" stroke="#444" stroke-width="0.8"/>
<line x1="528.4" y1="468.4" x2="528.4" y2="470.4" stroke="#222" stroke-width="0.7"/>
<text x="528.92" y="466.80" font-size="6.7" fill="#333" stroke="#333" stroke-width="0.12" textLength="14.76" lengthAdjust="spacingAndGlyphs">21:00</text>
<path d="M544.2,460.2 L544.0,460.2 L546.2,464.29999999999995 L544.0,468.4 L544.2,468.4" fill="#f8f8f8" stroke="#444" stroke-width="0.8"/>
<line x1="544.2" y1="460.7" x2="544.2" y2="467.9" stroke="#f8f8f8" stroke-width="1"/>
</g>
<g filter="url(#bm)">
<rect x="608.2" y="460.2" width="39.30" height="8.20" fill="#efefef" stroke="#444" stroke-width="0.8"/>
<line x1="608.5" y1="460.2" x2="608.5" y2="470.4" stroke="#4a4a4a" stroke-width="0.9"/>
<line x1="610.5" y1="460.2" x2="610.5" y2="470.4" stroke="#4a4a4a" stroke-width="0.9"/>
<line x1="613.5" y1="460.2" x2="613.5" y2="470.4" stroke="#4a4a4a" stroke-width="0.9"/>
<line x1="616.5" y1="460.2" x2="616.5" y2="470.4" stroke="#4a4a4a" stroke-width="0.9"/>
<line x1="623.5" y1="460.2" x2="623.5" y2="470.4" stroke="#4a4a4a" stroke-width="0.9"/>
<line x1="626.5" y1="460.2" x2="626.5" y2="470.4" stroke="#4a4a4a" stroke-width="0.9"/>
<line x1="627.5" y1="460.2" x2="627.5" y2="470.4" stroke="#4a4a4a" stroke-width="0.9"/>
<line x1="629.5" y1="460.2" x2="629.5" y2="470.4" stroke="#4a4a4a" stroke-width="0.9"/>
<rect x="618.4" y="460.2" width="5.00" height="8.20" fill="#f8f8f8" stroke="#444" stroke-width="0.8"/>
<line x1="618.4" y1="468.4" x2="618.4" y2="470.4" stroke="#222" stroke-width="0.7"/>
<text x="619.26" y="466.80" font-size="6.7" fill="#333" stroke="#333" stroke-width="0.12" textLength="3.28" lengthAdjust="spacingAndGlyphs">2</text>
<rect x="631.25" y="460.2" width="16.25" height="8.20" fill="#f8f8f8" stroke="#444" stroke-width="0.8"/>
<line x1="631.25" y1="468.4" x2="631.25" y2="470.4" stroke="#222" stroke-width="0.7"/>
<text x="631.99" y="466.80" font-size="6.7" fill="#333" stroke="#333" stroke-width="0.12" textLength="14.76" lengthAdjust="spacingAndGlyphs">01:05</text>
<path d="M647.5,460.2 L650.5,460.2 L652.7,464.29999999999995 L650.5,468.4 L647.5,468.4 Z" fill="#f8f8f8" stroke="none"/>
<path d="M647.5,460.2 L648.0,460.2 L650.2,464.29999999999995 L648.0,468.4 L647.5,468.4" fill="#f8f8f8" stroke="#444" stroke-width="0.8"/>
<line x1="647.5" y1="460.7" x2="647.5" y2="467.9" stroke="#f8f8f8" stroke-width="1"/>
<path d="M650.5,460.2 L652.7,464.29999999999995 L650.5,468.4" fill="none" stroke="#444" stroke-width="0.8"/>
</g>
<g filter="url(#bm)">
<rect x="698.3" y="460.2" width="76.00" height="8.20" fill="#efefef" stroke="#444" stroke-width="0.8"/>
<line x1="698.5" y1="460.2" x2="698.5" y2="470.4" stroke="#4a4a4a" stroke-width="0.9"/>
<line x1="699.5" y1="460.2" x2="699.5" y2="470.4" stroke="#4a4a4a" stroke-width="0.9"/>
<line x1="701.5" y1="460.2" x2="701.5" y2="470.4" stroke="#4a4a4a" stroke-width="0.9"/>
<line x1="703.5" y1="460.2" x2="703.5" y2="470.4" stroke="#4a4a4a" stroke-width="0.9"/>
<line x1="706.5" y1="460.2" x2="706.5" y2="470.4" stroke="#4a4a4a" stroke-width="0.9"/>
<line x1="709.5" y1="460.2" x2="709.5" y2="470.4" stroke="#4a4a4a" stroke-width="0.9"/>
<line x1="711.5" y1="460.2" x2="711.5" y2="470.4" stroke="#4a4a4a" stroke-width="0.9"/>
<line x1="722.5" y1="460.2" x2="722.5" y2="470.4" stroke="#4a4a4a" stroke-width="0.9"/>
<line x1="724.5" y1="460.2" x2="724.5" y2="470.4" stroke="#4a4a4a" stroke-width="0.9"/>
<line x1="727.5" y1="460.2" x2="727.5" y2="470.4" stroke="#4a4a4a" stroke-width="0.9"/>
<line x1="730.5" y1="460.2" x2="730.5" y2="470.4" stroke="#4a4a4a" stroke-width="0.9"/>
<line x1="732.5" y1="460.2" x2="732.5" y2="470.4" stroke="#4a4a4a" stroke-width="0.9"/>
<line x1="735.5" y1="460.2" x2="735.5" y2="470.4" stroke="#4a4a4a" stroke-width="0.9"/>
<line x1="737.5" y1="460.2" x2="737.5" y2="470.4" stroke="#4a4a4a" stroke-width="0.9"/>
<line x1="740.5" y1="460.2" x2="740.5" y2="470.4" stroke="#4a4a4a" stroke-width="0.9"/>
<line x1="742.5" y1="460.2" x2="742.5" y2="470.4" stroke="#4a4a4a" stroke-width="0.9"/>
<line x1="755.5" y1="460.2" x2="755.5" y2="470.4" stroke="#4a4a4a" stroke-width="0.9"/>
<rect x="714.3" y="460.2" width="7.90" height="8.20" fill="#f8f8f8" stroke="#444" stroke-width="0.8"/>
<line x1="714.3" y1="468.4" x2="714.3" y2="470.4" stroke="#222" stroke-width="0.7"/>
<text x="714.97" y="466.80" font-size="6.7" fill="#333" stroke="#333" stroke-width="0.12" textLength="6.56" lengthAdjust="spacingAndGlyphs">16</text>
<rect x="745.5" y="460.2" width="4.40" height="8.20" fill="#f8f8f8" stroke="#444" stroke-width="0.8"/>
<line x1="745.5" y1="468.4" x2="745.5" y2="470.4" stroke="#222" stroke-width="0.7"/>
<text x="746.06" y="466.80" font-size="6.7" fill="#333" stroke="#333" stroke-width="0.12" textLength="3.28" lengthAdjust="spacingAndGlyphs">1</text>
<rect x="750.8" y="460.2" width="4.80" height="8.20" fill="#f8f8f8" stroke="#444" stroke-width="0.8"/>
<line x1="750.8" y1="468.4" x2="750.8" y2="470.4" stroke="#222" stroke-width="0.7"/>
<text x="751.56" y="466.80" font-size="6.7" fill="#333" stroke="#333" stroke-width="0.12" textLength="3.28" lengthAdjust="spacingAndGlyphs">2</text>
<rect x="758.3" y="460.2" width="16.00" height="8.20" fill="#f8f8f8" stroke="#444" stroke-width="0.8"/>
<line x1="758.3" y1="468.4" x2="758.3" y2="470.4" stroke="#222" stroke-width="0.7"/>
<text x="758.92" y="466.80" font-size="6.7" fill="#333" stroke="#333" stroke-width="0.12" textLength="14.76" lengthAdjust="spacingAndGlyphs">18:45</text>
<path d="M774.3,460.2 L776.6999999999999,460.2 L778.9,464.29999999999995 L776.6999999999999,468.4 L774.3,468.4 Z" fill="#f8f8f8" stroke="none"/>
<path d="M774.3,460.2 L774.4,460.2 L776.6,464.29999999999995 L774.4,468.4 L774.3,468.4" fill="#f8f8f8" stroke="#444" stroke-width="0.8"/>
<line x1="774.3" y1="460.7" x2="774.3" y2="467.9" stroke="#f8f8f8" stroke-width="1"/>
<path d="M776.6999999999999,460.2 L778.9,464.29999999999995 L776.6999999999999,468.4" fill="none" stroke="#444" stroke-width="0.8"/>
</g>
<line x1="612.3" y1="461" x2="612.3" y2="467.8" stroke="#f0a0a0" stroke-width="0.9"/>
<line x1="728.4" y1="461" x2="728.4" y2="467.8" stroke="#f0a0a0" stroke-width="0.9"/>
</svg></body></html>
